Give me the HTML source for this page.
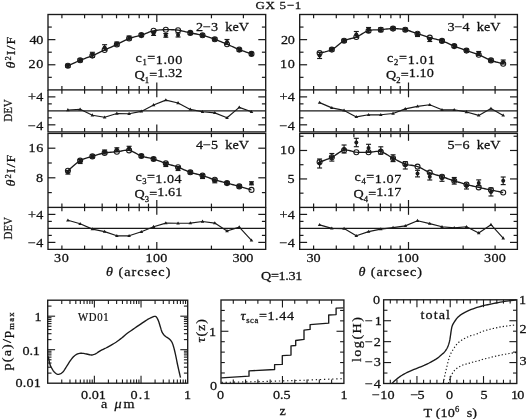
<!DOCTYPE html>
<html><head><meta charset="utf-8"><style>
html,body{margin:0;padding:0;background:#fff;width:526px;height:419px;overflow:hidden}
svg{display:block;will-change:transform}
.t{font-family:"Liberation Serif",serif;fill:#111;stroke:#111;stroke-width:0.25}
.tl{stroke-width:0.2}
</style></head><body>
<svg width="526" height="419" viewBox="0 0 526 419">
<rect width="526" height="419" fill="#fff"/>
<rect x="48" y="14.5" width="217.7" height="75.4" fill="none" stroke="#1a1a1a" stroke-width="1.35"/>
<path d="M48,89.9 V131.8 H265.7 V89.9" fill="none" stroke="#1a1a1a" stroke-width="1.35"/>
<line x1="61.9" y1="89.9" x2="61.9" y2="86.1" stroke="#1a1a1a" stroke-width="1.2" />
<line x1="61.9" y1="14.5" x2="61.9" y2="18.3" stroke="#1a1a1a" stroke-width="1.2" />
<line x1="84.58" y1="89.9" x2="84.58" y2="86.1" stroke="#1a1a1a" stroke-width="1.2" />
<line x1="84.58" y1="14.5" x2="84.58" y2="18.3" stroke="#1a1a1a" stroke-width="1.2" />
<line x1="102.17" y1="89.9" x2="102.17" y2="86.1" stroke="#1a1a1a" stroke-width="1.2" />
<line x1="102.17" y1="14.5" x2="102.17" y2="18.3" stroke="#1a1a1a" stroke-width="1.2" />
<line x1="116.54" y1="89.9" x2="116.54" y2="86.1" stroke="#1a1a1a" stroke-width="1.2" />
<line x1="116.54" y1="14.5" x2="116.54" y2="18.3" stroke="#1a1a1a" stroke-width="1.2" />
<line x1="128.69" y1="89.9" x2="128.69" y2="86.1" stroke="#1a1a1a" stroke-width="1.2" />
<line x1="128.69" y1="14.5" x2="128.69" y2="18.3" stroke="#1a1a1a" stroke-width="1.2" />
<line x1="139.21" y1="89.9" x2="139.21" y2="86.1" stroke="#1a1a1a" stroke-width="1.2" />
<line x1="139.21" y1="14.5" x2="139.21" y2="18.3" stroke="#1a1a1a" stroke-width="1.2" />
<line x1="148.5" y1="89.9" x2="148.5" y2="86.1" stroke="#1a1a1a" stroke-width="1.2" />
<line x1="148.5" y1="14.5" x2="148.5" y2="18.3" stroke="#1a1a1a" stroke-width="1.2" />
<line x1="156.8" y1="89.9" x2="156.8" y2="82.5" stroke="#1a1a1a" stroke-width="1.2" />
<line x1="156.8" y1="14.5" x2="156.8" y2="21.9" stroke="#1a1a1a" stroke-width="1.2" />
<line x1="211.44" y1="89.9" x2="211.44" y2="86.1" stroke="#1a1a1a" stroke-width="1.2" />
<line x1="211.44" y1="14.5" x2="211.44" y2="18.3" stroke="#1a1a1a" stroke-width="1.2" />
<line x1="243.4" y1="89.9" x2="243.4" y2="86.1" stroke="#1a1a1a" stroke-width="1.2" />
<line x1="243.4" y1="14.5" x2="243.4" y2="18.3" stroke="#1a1a1a" stroke-width="1.2" />
<line x1="61.9" y1="131.8" x2="61.9" y2="128" stroke="#1a1a1a" stroke-width="1.2" />
<line x1="61.9" y1="89.9" x2="61.9" y2="93.7" stroke="#1a1a1a" stroke-width="1.2" />
<line x1="84.58" y1="131.8" x2="84.58" y2="128" stroke="#1a1a1a" stroke-width="1.2" />
<line x1="84.58" y1="89.9" x2="84.58" y2="93.7" stroke="#1a1a1a" stroke-width="1.2" />
<line x1="102.17" y1="131.8" x2="102.17" y2="128" stroke="#1a1a1a" stroke-width="1.2" />
<line x1="102.17" y1="89.9" x2="102.17" y2="93.7" stroke="#1a1a1a" stroke-width="1.2" />
<line x1="116.54" y1="131.8" x2="116.54" y2="128" stroke="#1a1a1a" stroke-width="1.2" />
<line x1="116.54" y1="89.9" x2="116.54" y2="93.7" stroke="#1a1a1a" stroke-width="1.2" />
<line x1="128.69" y1="131.8" x2="128.69" y2="128" stroke="#1a1a1a" stroke-width="1.2" />
<line x1="128.69" y1="89.9" x2="128.69" y2="93.7" stroke="#1a1a1a" stroke-width="1.2" />
<line x1="139.21" y1="131.8" x2="139.21" y2="128" stroke="#1a1a1a" stroke-width="1.2" />
<line x1="139.21" y1="89.9" x2="139.21" y2="93.7" stroke="#1a1a1a" stroke-width="1.2" />
<line x1="148.5" y1="131.8" x2="148.5" y2="128" stroke="#1a1a1a" stroke-width="1.2" />
<line x1="148.5" y1="89.9" x2="148.5" y2="93.7" stroke="#1a1a1a" stroke-width="1.2" />
<line x1="156.8" y1="131.8" x2="156.8" y2="124.4" stroke="#1a1a1a" stroke-width="1.2" />
<line x1="156.8" y1="89.9" x2="156.8" y2="97.3" stroke="#1a1a1a" stroke-width="1.2" />
<line x1="211.44" y1="131.8" x2="211.44" y2="128" stroke="#1a1a1a" stroke-width="1.2" />
<line x1="211.44" y1="89.9" x2="211.44" y2="93.7" stroke="#1a1a1a" stroke-width="1.2" />
<line x1="243.4" y1="131.8" x2="243.4" y2="128" stroke="#1a1a1a" stroke-width="1.2" />
<line x1="243.4" y1="89.9" x2="243.4" y2="93.7" stroke="#1a1a1a" stroke-width="1.2" />
<line x1="48" y1="64.77" x2="55.4" y2="64.77" stroke="#1a1a1a" stroke-width="1.2" />
<line x1="265.7" y1="64.77" x2="258.3" y2="64.77" stroke="#1a1a1a" stroke-width="1.2" />
<line x1="48" y1="39.63" x2="55.4" y2="39.63" stroke="#1a1a1a" stroke-width="1.2" />
<line x1="265.7" y1="39.63" x2="258.3" y2="39.63" stroke="#1a1a1a" stroke-width="1.2" />
<line x1="48" y1="77.33" x2="51.8" y2="77.33" stroke="#1a1a1a" stroke-width="1.2" />
<line x1="265.7" y1="77.33" x2="261.9" y2="77.33" stroke="#1a1a1a" stroke-width="1.2" />
<line x1="48" y1="52.2" x2="51.8" y2="52.2" stroke="#1a1a1a" stroke-width="1.2" />
<line x1="265.7" y1="52.2" x2="261.9" y2="52.2" stroke="#1a1a1a" stroke-width="1.2" />
<line x1="48" y1="27.07" x2="51.8" y2="27.07" stroke="#1a1a1a" stroke-width="1.2" />
<line x1="265.7" y1="27.07" x2="261.9" y2="27.07" stroke="#1a1a1a" stroke-width="1.2" />
<line x1="48" y1="124.82" x2="55.4" y2="124.82" stroke="#1a1a1a" stroke-width="1.2" />
<line x1="265.7" y1="124.82" x2="258.3" y2="124.82" stroke="#1a1a1a" stroke-width="1.2" />
<line x1="48" y1="96.88" x2="55.4" y2="96.88" stroke="#1a1a1a" stroke-width="1.2" />
<line x1="265.7" y1="96.88" x2="258.3" y2="96.88" stroke="#1a1a1a" stroke-width="1.2" />
<line x1="48" y1="117.83" x2="51.8" y2="117.83" stroke="#1a1a1a" stroke-width="1.2" />
<line x1="265.7" y1="117.83" x2="261.9" y2="117.83" stroke="#1a1a1a" stroke-width="1.2" />
<line x1="48" y1="103.87" x2="51.8" y2="103.87" stroke="#1a1a1a" stroke-width="1.2" />
<line x1="265.7" y1="103.87" x2="261.9" y2="103.87" stroke="#1a1a1a" stroke-width="1.2" />
<line x1="48" y1="110.85" x2="265.7" y2="110.85" stroke="#1a1a1a" stroke-width="1.2" />
<polyline points="67.9,65.8 68.84,65.37 70.1,64.79 71.59,64.11 73.26,63.34 75.01,62.55 76.79,61.75 78.53,60.99 80.14,60.3 81.67,59.68 83.2,59.09 84.73,58.52 86.26,57.96 87.79,57.39 89.32,56.82 90.85,56.23 92.38,55.6 93.91,54.94 95.44,54.26 96.97,53.56 98.5,52.85 100.03,52.13 101.56,51.41 103.09,50.7 104.62,50 106.15,49.31 107.68,48.63 109.21,47.95 110.74,47.27 112.27,46.59 113.8,45.91 115.33,45.21 116.86,44.5 118.39,43.76 119.92,42.97 121.45,42.17 122.98,41.37 124.51,40.58 126.04,39.83 127.57,39.13 129.1,38.5 130.63,37.96 132.16,37.49 133.69,37.07 135.22,36.69 136.75,36.33 138.28,35.95 139.81,35.55 141.34,35.1 142.87,34.58 144.4,34.01 145.93,33.41 147.46,32.81 148.99,32.22 150.52,31.67 152.05,31.19 153.58,30.8 155.11,30.5 156.64,30.26 158.17,30.08 159.7,29.95 161.23,29.85 162.76,29.79 164.29,29.74 165.82,29.7 167.35,29.67 168.88,29.66 170.41,29.67 171.94,29.71 173.47,29.78 175,29.88 176.53,30.02 178.06,30.2 179.59,30.43 181.12,30.73 182.65,31.06 184.18,31.43 185.71,31.81 187.24,32.19 188.77,32.56 190.3,32.9 191.83,33.2 193.36,33.48 194.89,33.75 196.42,34.02 197.95,34.3 199.48,34.59 201.01,34.93 202.54,35.3 204.07,35.72 205.6,36.17 207.13,36.64 208.66,37.14 210.19,37.66 211.72,38.2 213.25,38.75 214.78,39.3 216.31,39.87 217.84,40.45 219.37,41.05 220.9,41.66 222.43,42.29 223.96,42.92 225.49,43.56 227.02,44.2 228.55,44.86 230.08,45.54 231.61,46.24 233.14,46.94 234.67,47.63 236.2,48.32 237.73,48.97 239.26,49.6 240.87,50.22 242.61,50.85 244.39,51.48 246.15,52.09 247.81,52.65 249.3,53.15 250.56,53.58 251.5,53.9" fill="none" stroke="#1a1a1a" stroke-width="1.35" stroke-linejoin="round" />
<line x1="67.9" y1="64.3" x2="67.9" y2="67.3" stroke="#1a1a1a" stroke-width="1.15" />
<line x1="65.4" y1="64.3" x2="70.4" y2="64.3" stroke="#1a1a1a" stroke-width="1.15" />
<line x1="65.4" y1="67.3" x2="70.4" y2="67.3" stroke="#1a1a1a" stroke-width="1.15" />
<circle cx="67.9" cy="65.8" r="2.0" fill="#1a1a1a"/>
<circle cx="67.9" cy="65.8" r="2.5" fill="none" stroke="#1a1a1a" stroke-width="1.1"/>
<line x1="80.14" y1="58.8" x2="80.14" y2="61.8" stroke="#1a1a1a" stroke-width="1.15" />
<line x1="77.64" y1="58.8" x2="82.64" y2="58.8" stroke="#1a1a1a" stroke-width="1.15" />
<line x1="77.64" y1="61.8" x2="82.64" y2="61.8" stroke="#1a1a1a" stroke-width="1.15" />
<circle cx="80.14" cy="60.3" r="2.0" fill="#1a1a1a"/>
<circle cx="80.14" cy="60.3" r="2.5" fill="none" stroke="#1a1a1a" stroke-width="1.1"/>
<line x1="92.38" y1="52.3" x2="92.38" y2="57.3" stroke="#1a1a1a" stroke-width="1.15" />
<line x1="89.88" y1="52.3" x2="94.88" y2="52.3" stroke="#1a1a1a" stroke-width="1.15" />
<line x1="89.88" y1="57.3" x2="94.88" y2="57.3" stroke="#1a1a1a" stroke-width="1.15" />
<circle cx="92.38" cy="54.8" r="2.0" fill="#1a1a1a"/>
<circle cx="92.38" cy="55.6" r="2.5" fill="none" stroke="#1a1a1a" stroke-width="1.1"/>
<line x1="104.62" y1="44.7" x2="104.62" y2="50.3" stroke="#1a1a1a" stroke-width="1.15" />
<line x1="102.12" y1="44.7" x2="107.12" y2="44.7" stroke="#1a1a1a" stroke-width="1.15" />
<line x1="102.12" y1="50.3" x2="107.12" y2="50.3" stroke="#1a1a1a" stroke-width="1.15" />
<circle cx="104.62" cy="47.5" r="2.0" fill="#1a1a1a"/>
<circle cx="104.62" cy="50" r="2.5" fill="none" stroke="#1a1a1a" stroke-width="1.1"/>
<line x1="116.86" y1="42" x2="116.86" y2="46" stroke="#1a1a1a" stroke-width="1.15" />
<line x1="114.36" y1="42" x2="119.36" y2="42" stroke="#1a1a1a" stroke-width="1.15" />
<line x1="114.36" y1="46" x2="119.36" y2="46" stroke="#1a1a1a" stroke-width="1.15" />
<circle cx="116.86" cy="44" r="2.0" fill="#1a1a1a"/>
<circle cx="116.86" cy="44.5" r="2.5" fill="none" stroke="#1a1a1a" stroke-width="1.1"/>
<line x1="129.1" y1="36" x2="129.1" y2="40" stroke="#1a1a1a" stroke-width="1.15" />
<line x1="126.6" y1="36" x2="131.6" y2="36" stroke="#1a1a1a" stroke-width="1.15" />
<line x1="126.6" y1="40" x2="131.6" y2="40" stroke="#1a1a1a" stroke-width="1.15" />
<circle cx="129.1" cy="38" r="2.0" fill="#1a1a1a"/>
<circle cx="129.1" cy="38.5" r="2.5" fill="none" stroke="#1a1a1a" stroke-width="1.1"/>
<line x1="141.34" y1="33.6" x2="141.34" y2="36.6" stroke="#1a1a1a" stroke-width="1.15" />
<line x1="138.84" y1="33.6" x2="143.84" y2="33.6" stroke="#1a1a1a" stroke-width="1.15" />
<line x1="138.84" y1="36.6" x2="143.84" y2="36.6" stroke="#1a1a1a" stroke-width="1.15" />
<circle cx="141.34" cy="35.1" r="2.0" fill="#1a1a1a"/>
<circle cx="141.34" cy="35.1" r="2.5" fill="none" stroke="#1a1a1a" stroke-width="1.1"/>
<line x1="153.58" y1="31.4" x2="153.58" y2="35.4" stroke="#1a1a1a" stroke-width="1.15" />
<line x1="151.08" y1="31.4" x2="156.08" y2="31.4" stroke="#1a1a1a" stroke-width="1.15" />
<line x1="151.08" y1="35.4" x2="156.08" y2="35.4" stroke="#1a1a1a" stroke-width="1.15" />
<circle cx="153.58" cy="33.4" r="2.0" fill="#1a1a1a"/>
<circle cx="153.58" cy="30.8" r="2.5" fill="none" stroke="#1a1a1a" stroke-width="1.1"/>
<line x1="165.82" y1="33.6" x2="165.82" y2="37.2" stroke="#1a1a1a" stroke-width="1.15" />
<line x1="163.32" y1="33.6" x2="168.32" y2="33.6" stroke="#1a1a1a" stroke-width="1.15" />
<line x1="163.32" y1="37.2" x2="168.32" y2="37.2" stroke="#1a1a1a" stroke-width="1.15" />
<circle cx="165.82" cy="35.4" r="2.0" fill="#1a1a1a"/>
<circle cx="165.82" cy="29.7" r="2.5" fill="none" stroke="#1a1a1a" stroke-width="1.1"/>
<line x1="178.06" y1="33" x2="178.06" y2="37" stroke="#1a1a1a" stroke-width="1.15" />
<line x1="175.56" y1="33" x2="180.56" y2="33" stroke="#1a1a1a" stroke-width="1.15" />
<line x1="175.56" y1="37" x2="180.56" y2="37" stroke="#1a1a1a" stroke-width="1.15" />
<circle cx="178.06" cy="35" r="2.0" fill="#1a1a1a"/>
<circle cx="178.06" cy="30.2" r="2.5" fill="none" stroke="#1a1a1a" stroke-width="1.1"/>
<line x1="190.3" y1="31.5" x2="190.3" y2="34.5" stroke="#1a1a1a" stroke-width="1.15" />
<line x1="187.8" y1="31.5" x2="192.8" y2="31.5" stroke="#1a1a1a" stroke-width="1.15" />
<line x1="187.8" y1="34.5" x2="192.8" y2="34.5" stroke="#1a1a1a" stroke-width="1.15" />
<circle cx="190.3" cy="33" r="2.0" fill="#1a1a1a"/>
<circle cx="190.3" cy="32.9" r="2.5" fill="none" stroke="#1a1a1a" stroke-width="1.1"/>
<line x1="202.54" y1="33.8" x2="202.54" y2="36.8" stroke="#1a1a1a" stroke-width="1.15" />
<line x1="200.04" y1="33.8" x2="205.04" y2="33.8" stroke="#1a1a1a" stroke-width="1.15" />
<line x1="200.04" y1="36.8" x2="205.04" y2="36.8" stroke="#1a1a1a" stroke-width="1.15" />
<circle cx="202.54" cy="35.3" r="2.0" fill="#1a1a1a"/>
<circle cx="202.54" cy="35.3" r="2.5" fill="none" stroke="#1a1a1a" stroke-width="1.1"/>
<line x1="214.78" y1="37.8" x2="214.78" y2="40.8" stroke="#1a1a1a" stroke-width="1.15" />
<line x1="212.28" y1="37.8" x2="217.28" y2="37.8" stroke="#1a1a1a" stroke-width="1.15" />
<line x1="212.28" y1="40.8" x2="217.28" y2="40.8" stroke="#1a1a1a" stroke-width="1.15" />
<circle cx="214.78" cy="39.3" r="2.0" fill="#1a1a1a"/>
<circle cx="214.78" cy="39.3" r="2.5" fill="none" stroke="#1a1a1a" stroke-width="1.1"/>
<line x1="227.02" y1="39.5" x2="227.02" y2="44.5" stroke="#1a1a1a" stroke-width="1.15" />
<line x1="224.52" y1="39.5" x2="229.52" y2="39.5" stroke="#1a1a1a" stroke-width="1.15" />
<line x1="224.52" y1="44.5" x2="229.52" y2="44.5" stroke="#1a1a1a" stroke-width="1.15" />
<circle cx="227.02" cy="42" r="2.0" fill="#1a1a1a"/>
<circle cx="227.02" cy="44.2" r="2.5" fill="none" stroke="#1a1a1a" stroke-width="1.1"/>
<line x1="239.26" y1="48.5" x2="239.26" y2="51.5" stroke="#1a1a1a" stroke-width="1.15" />
<line x1="236.76" y1="48.5" x2="241.76" y2="48.5" stroke="#1a1a1a" stroke-width="1.15" />
<line x1="236.76" y1="51.5" x2="241.76" y2="51.5" stroke="#1a1a1a" stroke-width="1.15" />
<circle cx="239.26" cy="50" r="2.0" fill="#1a1a1a"/>
<circle cx="239.26" cy="49.6" r="2.5" fill="none" stroke="#1a1a1a" stroke-width="1.1"/>
<line x1="251.5" y1="52.4" x2="251.5" y2="55.4" stroke="#1a1a1a" stroke-width="1.15" />
<line x1="249" y1="52.4" x2="254" y2="52.4" stroke="#1a1a1a" stroke-width="1.15" />
<line x1="249" y1="55.4" x2="254" y2="55.4" stroke="#1a1a1a" stroke-width="1.15" />
<circle cx="251.5" cy="53.9" r="2.0" fill="#1a1a1a"/>
<circle cx="251.5" cy="53.9" r="2.5" fill="none" stroke="#1a1a1a" stroke-width="1.1"/>
<polyline points="67.9,110 80.14,109.3 92.38,115.2 104.62,117.3 116.86,113.5 129.1,113.7 141.34,111.4 153.58,105 165.82,100.1 178.06,103 190.3,109.4 202.54,111.8 214.78,112.9 227.02,117.8 239.26,107.4 251.5,111.8" fill="none" stroke="#1a1a1a" stroke-width="1.15" stroke-linejoin="round" />
<path d="M66.1,111.2 L69.7,111.2 L67.9,108.1 Z" fill="#1a1a1a"/>
<path d="M78.34,110.5 L81.94,110.5 L80.14,107.4 Z" fill="#1a1a1a"/>
<path d="M90.58,116.4 L94.18,116.4 L92.38,113.3 Z" fill="#1a1a1a"/>
<path d="M102.82,118.5 L106.42,118.5 L104.62,115.4 Z" fill="#1a1a1a"/>
<path d="M115.06,114.7 L118.66,114.7 L116.86,111.6 Z" fill="#1a1a1a"/>
<path d="M127.3,114.9 L130.9,114.9 L129.1,111.8 Z" fill="#1a1a1a"/>
<path d="M139.54,112.6 L143.14,112.6 L141.34,109.5 Z" fill="#1a1a1a"/>
<path d="M151.78,106.2 L155.38,106.2 L153.58,103.1 Z" fill="#1a1a1a"/>
<path d="M164.02,101.3 L167.62,101.3 L165.82,98.2 Z" fill="#1a1a1a"/>
<path d="M176.26,104.2 L179.86,104.2 L178.06,101.1 Z" fill="#1a1a1a"/>
<path d="M188.5,110.6 L192.1,110.6 L190.3,107.5 Z" fill="#1a1a1a"/>
<path d="M200.74,113 L204.34,113 L202.54,109.9 Z" fill="#1a1a1a"/>
<path d="M212.98,114.1 L216.58,114.1 L214.78,111 Z" fill="#1a1a1a"/>
<path d="M225.22,119 L228.82,119 L227.02,115.9 Z" fill="#1a1a1a"/>
<path d="M237.46,108.6 L241.06,108.6 L239.26,105.5 Z" fill="#1a1a1a"/>
<path d="M249.7,113 L253.3,113 L251.5,109.9 Z" fill="#1a1a1a"/>
<rect x="299.7" y="14.5" width="217.7" height="75.4" fill="none" stroke="#1a1a1a" stroke-width="1.35"/>
<path d="M299.7,89.9 V131.8 H517.4 V89.9" fill="none" stroke="#1a1a1a" stroke-width="1.35"/>
<line x1="313.6" y1="89.9" x2="313.6" y2="86.1" stroke="#1a1a1a" stroke-width="1.2" />
<line x1="313.6" y1="14.5" x2="313.6" y2="18.3" stroke="#1a1a1a" stroke-width="1.2" />
<line x1="336.28" y1="89.9" x2="336.28" y2="86.1" stroke="#1a1a1a" stroke-width="1.2" />
<line x1="336.28" y1="14.5" x2="336.28" y2="18.3" stroke="#1a1a1a" stroke-width="1.2" />
<line x1="353.87" y1="89.9" x2="353.87" y2="86.1" stroke="#1a1a1a" stroke-width="1.2" />
<line x1="353.87" y1="14.5" x2="353.87" y2="18.3" stroke="#1a1a1a" stroke-width="1.2" />
<line x1="368.24" y1="89.9" x2="368.24" y2="86.1" stroke="#1a1a1a" stroke-width="1.2" />
<line x1="368.24" y1="14.5" x2="368.24" y2="18.3" stroke="#1a1a1a" stroke-width="1.2" />
<line x1="380.39" y1="89.9" x2="380.39" y2="86.1" stroke="#1a1a1a" stroke-width="1.2" />
<line x1="380.39" y1="14.5" x2="380.39" y2="18.3" stroke="#1a1a1a" stroke-width="1.2" />
<line x1="390.91" y1="89.9" x2="390.91" y2="86.1" stroke="#1a1a1a" stroke-width="1.2" />
<line x1="390.91" y1="14.5" x2="390.91" y2="18.3" stroke="#1a1a1a" stroke-width="1.2" />
<line x1="400.2" y1="89.9" x2="400.2" y2="86.1" stroke="#1a1a1a" stroke-width="1.2" />
<line x1="400.2" y1="14.5" x2="400.2" y2="18.3" stroke="#1a1a1a" stroke-width="1.2" />
<line x1="408.5" y1="89.9" x2="408.5" y2="82.5" stroke="#1a1a1a" stroke-width="1.2" />
<line x1="408.5" y1="14.5" x2="408.5" y2="21.9" stroke="#1a1a1a" stroke-width="1.2" />
<line x1="463.14" y1="89.9" x2="463.14" y2="86.1" stroke="#1a1a1a" stroke-width="1.2" />
<line x1="463.14" y1="14.5" x2="463.14" y2="18.3" stroke="#1a1a1a" stroke-width="1.2" />
<line x1="495.1" y1="89.9" x2="495.1" y2="86.1" stroke="#1a1a1a" stroke-width="1.2" />
<line x1="495.1" y1="14.5" x2="495.1" y2="18.3" stroke="#1a1a1a" stroke-width="1.2" />
<line x1="313.6" y1="131.8" x2="313.6" y2="128" stroke="#1a1a1a" stroke-width="1.2" />
<line x1="313.6" y1="89.9" x2="313.6" y2="93.7" stroke="#1a1a1a" stroke-width="1.2" />
<line x1="336.28" y1="131.8" x2="336.28" y2="128" stroke="#1a1a1a" stroke-width="1.2" />
<line x1="336.28" y1="89.9" x2="336.28" y2="93.7" stroke="#1a1a1a" stroke-width="1.2" />
<line x1="353.87" y1="131.8" x2="353.87" y2="128" stroke="#1a1a1a" stroke-width="1.2" />
<line x1="353.87" y1="89.9" x2="353.87" y2="93.7" stroke="#1a1a1a" stroke-width="1.2" />
<line x1="368.24" y1="131.8" x2="368.24" y2="128" stroke="#1a1a1a" stroke-width="1.2" />
<line x1="368.24" y1="89.9" x2="368.24" y2="93.7" stroke="#1a1a1a" stroke-width="1.2" />
<line x1="380.39" y1="131.8" x2="380.39" y2="128" stroke="#1a1a1a" stroke-width="1.2" />
<line x1="380.39" y1="89.9" x2="380.39" y2="93.7" stroke="#1a1a1a" stroke-width="1.2" />
<line x1="390.91" y1="131.8" x2="390.91" y2="128" stroke="#1a1a1a" stroke-width="1.2" />
<line x1="390.91" y1="89.9" x2="390.91" y2="93.7" stroke="#1a1a1a" stroke-width="1.2" />
<line x1="400.2" y1="131.8" x2="400.2" y2="128" stroke="#1a1a1a" stroke-width="1.2" />
<line x1="400.2" y1="89.9" x2="400.2" y2="93.7" stroke="#1a1a1a" stroke-width="1.2" />
<line x1="408.5" y1="131.8" x2="408.5" y2="124.4" stroke="#1a1a1a" stroke-width="1.2" />
<line x1="408.5" y1="89.9" x2="408.5" y2="97.3" stroke="#1a1a1a" stroke-width="1.2" />
<line x1="463.14" y1="131.8" x2="463.14" y2="128" stroke="#1a1a1a" stroke-width="1.2" />
<line x1="463.14" y1="89.9" x2="463.14" y2="93.7" stroke="#1a1a1a" stroke-width="1.2" />
<line x1="495.1" y1="131.8" x2="495.1" y2="128" stroke="#1a1a1a" stroke-width="1.2" />
<line x1="495.1" y1="89.9" x2="495.1" y2="93.7" stroke="#1a1a1a" stroke-width="1.2" />
<line x1="299.7" y1="64.77" x2="307.1" y2="64.77" stroke="#1a1a1a" stroke-width="1.2" />
<line x1="517.4" y1="64.77" x2="510" y2="64.77" stroke="#1a1a1a" stroke-width="1.2" />
<line x1="299.7" y1="39.63" x2="307.1" y2="39.63" stroke="#1a1a1a" stroke-width="1.2" />
<line x1="517.4" y1="39.63" x2="510" y2="39.63" stroke="#1a1a1a" stroke-width="1.2" />
<line x1="299.7" y1="77.33" x2="303.5" y2="77.33" stroke="#1a1a1a" stroke-width="1.2" />
<line x1="517.4" y1="77.33" x2="513.6" y2="77.33" stroke="#1a1a1a" stroke-width="1.2" />
<line x1="299.7" y1="52.2" x2="303.5" y2="52.2" stroke="#1a1a1a" stroke-width="1.2" />
<line x1="517.4" y1="52.2" x2="513.6" y2="52.2" stroke="#1a1a1a" stroke-width="1.2" />
<line x1="299.7" y1="27.07" x2="303.5" y2="27.07" stroke="#1a1a1a" stroke-width="1.2" />
<line x1="517.4" y1="27.07" x2="513.6" y2="27.07" stroke="#1a1a1a" stroke-width="1.2" />
<line x1="299.7" y1="124.82" x2="307.1" y2="124.82" stroke="#1a1a1a" stroke-width="1.2" />
<line x1="517.4" y1="124.82" x2="510" y2="124.82" stroke="#1a1a1a" stroke-width="1.2" />
<line x1="299.7" y1="96.88" x2="307.1" y2="96.88" stroke="#1a1a1a" stroke-width="1.2" />
<line x1="517.4" y1="96.88" x2="510" y2="96.88" stroke="#1a1a1a" stroke-width="1.2" />
<line x1="299.7" y1="117.83" x2="303.5" y2="117.83" stroke="#1a1a1a" stroke-width="1.2" />
<line x1="517.4" y1="117.83" x2="513.6" y2="117.83" stroke="#1a1a1a" stroke-width="1.2" />
<line x1="299.7" y1="103.87" x2="303.5" y2="103.87" stroke="#1a1a1a" stroke-width="1.2" />
<line x1="517.4" y1="103.87" x2="513.6" y2="103.87" stroke="#1a1a1a" stroke-width="1.2" />
<line x1="299.7" y1="110.85" x2="517.4" y2="110.85" stroke="#1a1a1a" stroke-width="1.2" />
<polyline points="319.6,53.1 320.54,52.87 321.8,52.6 323.29,52.28 324.96,51.9 326.71,51.45 328.49,50.93 330.23,50.32 331.84,49.6 333.37,48.72 334.9,47.66 336.43,46.47 337.96,45.22 339.49,43.97 341.02,42.77 342.55,41.7 344.08,40.8 345.61,40.1 347.14,39.56 348.67,39.12 350.2,38.74 351.73,38.39 353.26,38.01 354.79,37.56 356.32,37 357.85,36.3 359.38,35.48 360.91,34.59 362.44,33.67 363.97,32.78 365.5,31.96 367.03,31.25 368.56,30.7 370.09,30.32 371.62,30.08 373.15,29.94 374.68,29.88 376.21,29.85 377.74,29.83 379.27,29.79 380.8,29.7 382.33,29.55 383.86,29.38 385.39,29.2 386.92,29.02 388.45,28.86 389.98,28.72 391.51,28.63 393.04,28.6 394.57,28.61 396.1,28.65 397.63,28.72 399.16,28.83 400.69,28.98 402.22,29.17 403.75,29.41 405.28,29.7 406.81,30.06 408.34,30.5 409.87,30.99 411.4,31.53 412.93,32.08 414.46,32.64 415.99,33.18 417.52,33.7 419.05,34.2 420.58,34.7 422.11,35.2 423.64,35.69 425.17,36.19 426.7,36.67 428.23,37.14 429.76,37.6 431.29,38.03 432.82,38.42 434.35,38.8 435.88,39.17 437.41,39.55 438.94,39.96 440.47,40.4 442,40.9 443.53,41.46 445.06,42.08 446.59,42.74 448.12,43.42 449.65,44.12 451.18,44.8 452.71,45.47 454.24,46.1 455.77,46.7 457.3,47.28 458.83,47.85 460.36,48.41 461.89,48.97 463.42,49.51 464.95,50.06 466.48,50.6 468.01,51.13 469.54,51.64 471.07,52.14 472.6,52.63 474.13,53.14 475.66,53.66 477.19,54.21 478.72,54.8 480.25,55.45 481.78,56.15 483.31,56.89 484.84,57.65 486.37,58.4 487.9,59.12 489.43,59.8 490.96,60.4 492.57,60.95 494.31,61.48 496.09,61.99 497.85,62.45 499.51,62.87 501,63.24 502.26,63.55 503.2,63.8" fill="none" stroke="#1a1a1a" stroke-width="1.35" stroke-linejoin="round" />
<line x1="319.6" y1="52.5" x2="319.6" y2="58.5" stroke="#1a1a1a" stroke-width="1.15" />
<line x1="317.1" y1="52.5" x2="322.1" y2="52.5" stroke="#1a1a1a" stroke-width="1.15" />
<line x1="317.1" y1="58.5" x2="322.1" y2="58.5" stroke="#1a1a1a" stroke-width="1.15" />
<circle cx="319.6" cy="55.5" r="2.0" fill="#1a1a1a"/>
<circle cx="319.6" cy="53.1" r="2.5" fill="none" stroke="#1a1a1a" stroke-width="1.1"/>
<line x1="331.84" y1="48.1" x2="331.84" y2="51.1" stroke="#1a1a1a" stroke-width="1.15" />
<line x1="329.34" y1="48.1" x2="334.34" y2="48.1" stroke="#1a1a1a" stroke-width="1.15" />
<line x1="329.34" y1="51.1" x2="334.34" y2="51.1" stroke="#1a1a1a" stroke-width="1.15" />
<circle cx="331.84" cy="49.6" r="2.0" fill="#1a1a1a"/>
<circle cx="331.84" cy="49.6" r="2.5" fill="none" stroke="#1a1a1a" stroke-width="1.1"/>
<line x1="344.08" y1="39.3" x2="344.08" y2="42.3" stroke="#1a1a1a" stroke-width="1.15" />
<line x1="341.58" y1="39.3" x2="346.58" y2="39.3" stroke="#1a1a1a" stroke-width="1.15" />
<line x1="341.58" y1="42.3" x2="346.58" y2="42.3" stroke="#1a1a1a" stroke-width="1.15" />
<circle cx="344.08" cy="40.8" r="2.0" fill="#1a1a1a"/>
<circle cx="344.08" cy="40.8" r="2.5" fill="none" stroke="#1a1a1a" stroke-width="1.1"/>
<line x1="356.32" y1="31.5" x2="356.32" y2="37.5" stroke="#1a1a1a" stroke-width="1.15" />
<line x1="353.82" y1="31.5" x2="358.82" y2="31.5" stroke="#1a1a1a" stroke-width="1.15" />
<line x1="353.82" y1="37.5" x2="358.82" y2="37.5" stroke="#1a1a1a" stroke-width="1.15" />
<circle cx="356.32" cy="34.5" r="2.0" fill="#1a1a1a"/>
<circle cx="356.32" cy="37" r="2.5" fill="none" stroke="#1a1a1a" stroke-width="1.1"/>
<line x1="368.56" y1="27.5" x2="368.56" y2="32.5" stroke="#1a1a1a" stroke-width="1.15" />
<line x1="366.06" y1="27.5" x2="371.06" y2="27.5" stroke="#1a1a1a" stroke-width="1.15" />
<line x1="366.06" y1="32.5" x2="371.06" y2="32.5" stroke="#1a1a1a" stroke-width="1.15" />
<circle cx="368.56" cy="30" r="2.0" fill="#1a1a1a"/>
<circle cx="368.56" cy="30.7" r="2.5" fill="none" stroke="#1a1a1a" stroke-width="1.1"/>
<line x1="380.8" y1="27.7" x2="380.8" y2="31.7" stroke="#1a1a1a" stroke-width="1.15" />
<line x1="378.3" y1="27.7" x2="383.3" y2="27.7" stroke="#1a1a1a" stroke-width="1.15" />
<line x1="378.3" y1="31.7" x2="383.3" y2="31.7" stroke="#1a1a1a" stroke-width="1.15" />
<circle cx="380.8" cy="29.7" r="2.0" fill="#1a1a1a"/>
<circle cx="380.8" cy="29.7" r="2.5" fill="none" stroke="#1a1a1a" stroke-width="1.1"/>
<line x1="393.04" y1="27.1" x2="393.04" y2="30.1" stroke="#1a1a1a" stroke-width="1.15" />
<line x1="390.54" y1="27.1" x2="395.54" y2="27.1" stroke="#1a1a1a" stroke-width="1.15" />
<line x1="390.54" y1="30.1" x2="395.54" y2="30.1" stroke="#1a1a1a" stroke-width="1.15" />
<circle cx="393.04" cy="28.6" r="2.0" fill="#1a1a1a"/>
<circle cx="393.04" cy="28.6" r="2.5" fill="none" stroke="#1a1a1a" stroke-width="1.1"/>
<line x1="405.28" y1="28.2" x2="405.28" y2="31.2" stroke="#1a1a1a" stroke-width="1.15" />
<line x1="402.78" y1="28.2" x2="407.78" y2="28.2" stroke="#1a1a1a" stroke-width="1.15" />
<line x1="402.78" y1="31.2" x2="407.78" y2="31.2" stroke="#1a1a1a" stroke-width="1.15" />
<circle cx="405.28" cy="29.7" r="2.0" fill="#1a1a1a"/>
<circle cx="405.28" cy="29.7" r="2.5" fill="none" stroke="#1a1a1a" stroke-width="1.1"/>
<line x1="417.52" y1="32.5" x2="417.52" y2="36.5" stroke="#1a1a1a" stroke-width="1.15" />
<line x1="415.02" y1="32.5" x2="420.02" y2="32.5" stroke="#1a1a1a" stroke-width="1.15" />
<line x1="415.02" y1="36.5" x2="420.02" y2="36.5" stroke="#1a1a1a" stroke-width="1.15" />
<circle cx="417.52" cy="34.5" r="2.0" fill="#1a1a1a"/>
<circle cx="417.52" cy="33.7" r="2.5" fill="none" stroke="#1a1a1a" stroke-width="1.1"/>
<line x1="429.76" y1="37.5" x2="429.76" y2="41.5" stroke="#1a1a1a" stroke-width="1.15" />
<line x1="427.26" y1="37.5" x2="432.26" y2="37.5" stroke="#1a1a1a" stroke-width="1.15" />
<line x1="427.26" y1="41.5" x2="432.26" y2="41.5" stroke="#1a1a1a" stroke-width="1.15" />
<circle cx="429.76" cy="39.5" r="2.0" fill="#1a1a1a"/>
<circle cx="429.76" cy="37.6" r="2.5" fill="none" stroke="#1a1a1a" stroke-width="1.1"/>
<line x1="442" y1="39.4" x2="442" y2="42.4" stroke="#1a1a1a" stroke-width="1.15" />
<line x1="439.5" y1="39.4" x2="444.5" y2="39.4" stroke="#1a1a1a" stroke-width="1.15" />
<line x1="439.5" y1="42.4" x2="444.5" y2="42.4" stroke="#1a1a1a" stroke-width="1.15" />
<circle cx="442" cy="40.9" r="2.0" fill="#1a1a1a"/>
<circle cx="442" cy="40.9" r="2.5" fill="none" stroke="#1a1a1a" stroke-width="1.1"/>
<line x1="454.24" y1="44.6" x2="454.24" y2="47.6" stroke="#1a1a1a" stroke-width="1.15" />
<line x1="451.74" y1="44.6" x2="456.74" y2="44.6" stroke="#1a1a1a" stroke-width="1.15" />
<line x1="451.74" y1="47.6" x2="456.74" y2="47.6" stroke="#1a1a1a" stroke-width="1.15" />
<circle cx="454.24" cy="46.1" r="2.0" fill="#1a1a1a"/>
<circle cx="454.24" cy="46.1" r="2.5" fill="none" stroke="#1a1a1a" stroke-width="1.1"/>
<line x1="466.48" y1="49.1" x2="466.48" y2="52.1" stroke="#1a1a1a" stroke-width="1.15" />
<line x1="463.98" y1="49.1" x2="468.98" y2="49.1" stroke="#1a1a1a" stroke-width="1.15" />
<line x1="463.98" y1="52.1" x2="468.98" y2="52.1" stroke="#1a1a1a" stroke-width="1.15" />
<circle cx="466.48" cy="50.6" r="2.0" fill="#1a1a1a"/>
<circle cx="466.48" cy="50.6" r="2.5" fill="none" stroke="#1a1a1a" stroke-width="1.1"/>
<line x1="478.72" y1="51.5" x2="478.72" y2="55.5" stroke="#1a1a1a" stroke-width="1.15" />
<line x1="476.22" y1="51.5" x2="481.22" y2="51.5" stroke="#1a1a1a" stroke-width="1.15" />
<line x1="476.22" y1="55.5" x2="481.22" y2="55.5" stroke="#1a1a1a" stroke-width="1.15" />
<circle cx="478.72" cy="53.5" r="2.0" fill="#1a1a1a"/>
<circle cx="478.72" cy="54.8" r="2.5" fill="none" stroke="#1a1a1a" stroke-width="1.1"/>
<line x1="490.96" y1="58.9" x2="490.96" y2="61.9" stroke="#1a1a1a" stroke-width="1.15" />
<line x1="488.46" y1="58.9" x2="493.46" y2="58.9" stroke="#1a1a1a" stroke-width="1.15" />
<line x1="488.46" y1="61.9" x2="493.46" y2="61.9" stroke="#1a1a1a" stroke-width="1.15" />
<circle cx="490.96" cy="60.4" r="2.0" fill="#1a1a1a"/>
<circle cx="490.96" cy="60.4" r="2.5" fill="none" stroke="#1a1a1a" stroke-width="1.1"/>
<line x1="503.2" y1="60" x2="503.2" y2="64" stroke="#1a1a1a" stroke-width="1.15" />
<line x1="500.7" y1="60" x2="505.7" y2="60" stroke="#1a1a1a" stroke-width="1.15" />
<line x1="500.7" y1="64" x2="505.7" y2="64" stroke="#1a1a1a" stroke-width="1.15" />
<circle cx="503.2" cy="62" r="2.0" fill="#1a1a1a"/>
<circle cx="503.2" cy="63.8" r="2.5" fill="none" stroke="#1a1a1a" stroke-width="1.1"/>
<polyline points="319.6,102.6 331.84,107.9 344.08,110.4 356.32,116.9 368.56,114.8 380.8,114.8 393.04,113.5 405.28,108.9 417.52,106.4 429.76,104.8 442,109.8 454.24,109.8 466.48,112 478.72,115.4 490.96,108.6 503.2,115.4" fill="none" stroke="#1a1a1a" stroke-width="1.15" stroke-linejoin="round" />
<path d="M317.8,103.8 L321.4,103.8 L319.6,100.7 Z" fill="#1a1a1a"/>
<path d="M330.04,109.1 L333.64,109.1 L331.84,106 Z" fill="#1a1a1a"/>
<path d="M342.28,111.6 L345.88,111.6 L344.08,108.5 Z" fill="#1a1a1a"/>
<path d="M354.52,118.1 L358.12,118.1 L356.32,115 Z" fill="#1a1a1a"/>
<path d="M366.76,116 L370.36,116 L368.56,112.9 Z" fill="#1a1a1a"/>
<path d="M379,116 L382.6,116 L380.8,112.9 Z" fill="#1a1a1a"/>
<path d="M391.24,114.7 L394.84,114.7 L393.04,111.6 Z" fill="#1a1a1a"/>
<path d="M403.48,110.1 L407.08,110.1 L405.28,107 Z" fill="#1a1a1a"/>
<path d="M415.72,107.6 L419.32,107.6 L417.52,104.5 Z" fill="#1a1a1a"/>
<path d="M427.96,106 L431.56,106 L429.76,102.9 Z" fill="#1a1a1a"/>
<path d="M440.2,111 L443.8,111 L442,107.9 Z" fill="#1a1a1a"/>
<path d="M452.44,111 L456.04,111 L454.24,107.9 Z" fill="#1a1a1a"/>
<path d="M464.68,113.2 L468.28,113.2 L466.48,110.1 Z" fill="#1a1a1a"/>
<path d="M476.92,116.6 L480.52,116.6 L478.72,113.5 Z" fill="#1a1a1a"/>
<path d="M489.16,109.8 L492.76,109.8 L490.96,106.7 Z" fill="#1a1a1a"/>
<path d="M501.4,116.6 L505,116.6 L503.2,113.5 Z" fill="#1a1a1a"/>
<rect x="48" y="133.4" width="217.7" height="74" fill="none" stroke="#1a1a1a" stroke-width="1.35"/>
<path d="M48,207.4 V249.4 H265.7 V207.4" fill="none" stroke="#1a1a1a" stroke-width="1.35"/>
<line x1="61.9" y1="207.4" x2="61.9" y2="203.6" stroke="#1a1a1a" stroke-width="1.2" />
<line x1="61.9" y1="133.4" x2="61.9" y2="137.2" stroke="#1a1a1a" stroke-width="1.2" />
<line x1="84.58" y1="207.4" x2="84.58" y2="203.6" stroke="#1a1a1a" stroke-width="1.2" />
<line x1="84.58" y1="133.4" x2="84.58" y2="137.2" stroke="#1a1a1a" stroke-width="1.2" />
<line x1="102.17" y1="207.4" x2="102.17" y2="203.6" stroke="#1a1a1a" stroke-width="1.2" />
<line x1="102.17" y1="133.4" x2="102.17" y2="137.2" stroke="#1a1a1a" stroke-width="1.2" />
<line x1="116.54" y1="207.4" x2="116.54" y2="203.6" stroke="#1a1a1a" stroke-width="1.2" />
<line x1="116.54" y1="133.4" x2="116.54" y2="137.2" stroke="#1a1a1a" stroke-width="1.2" />
<line x1="128.69" y1="207.4" x2="128.69" y2="203.6" stroke="#1a1a1a" stroke-width="1.2" />
<line x1="128.69" y1="133.4" x2="128.69" y2="137.2" stroke="#1a1a1a" stroke-width="1.2" />
<line x1="139.21" y1="207.4" x2="139.21" y2="203.6" stroke="#1a1a1a" stroke-width="1.2" />
<line x1="139.21" y1="133.4" x2="139.21" y2="137.2" stroke="#1a1a1a" stroke-width="1.2" />
<line x1="148.5" y1="207.4" x2="148.5" y2="203.6" stroke="#1a1a1a" stroke-width="1.2" />
<line x1="148.5" y1="133.4" x2="148.5" y2="137.2" stroke="#1a1a1a" stroke-width="1.2" />
<line x1="156.8" y1="207.4" x2="156.8" y2="200" stroke="#1a1a1a" stroke-width="1.2" />
<line x1="156.8" y1="133.4" x2="156.8" y2="140.8" stroke="#1a1a1a" stroke-width="1.2" />
<line x1="211.44" y1="207.4" x2="211.44" y2="203.6" stroke="#1a1a1a" stroke-width="1.2" />
<line x1="211.44" y1="133.4" x2="211.44" y2="137.2" stroke="#1a1a1a" stroke-width="1.2" />
<line x1="243.4" y1="207.4" x2="243.4" y2="203.6" stroke="#1a1a1a" stroke-width="1.2" />
<line x1="243.4" y1="133.4" x2="243.4" y2="137.2" stroke="#1a1a1a" stroke-width="1.2" />
<line x1="61.9" y1="249.4" x2="61.9" y2="245.6" stroke="#1a1a1a" stroke-width="1.2" />
<line x1="61.9" y1="207.4" x2="61.9" y2="211.2" stroke="#1a1a1a" stroke-width="1.2" />
<line x1="84.58" y1="249.4" x2="84.58" y2="245.6" stroke="#1a1a1a" stroke-width="1.2" />
<line x1="84.58" y1="207.4" x2="84.58" y2="211.2" stroke="#1a1a1a" stroke-width="1.2" />
<line x1="102.17" y1="249.4" x2="102.17" y2="245.6" stroke="#1a1a1a" stroke-width="1.2" />
<line x1="102.17" y1="207.4" x2="102.17" y2="211.2" stroke="#1a1a1a" stroke-width="1.2" />
<line x1="116.54" y1="249.4" x2="116.54" y2="245.6" stroke="#1a1a1a" stroke-width="1.2" />
<line x1="116.54" y1="207.4" x2="116.54" y2="211.2" stroke="#1a1a1a" stroke-width="1.2" />
<line x1="128.69" y1="249.4" x2="128.69" y2="245.6" stroke="#1a1a1a" stroke-width="1.2" />
<line x1="128.69" y1="207.4" x2="128.69" y2="211.2" stroke="#1a1a1a" stroke-width="1.2" />
<line x1="139.21" y1="249.4" x2="139.21" y2="245.6" stroke="#1a1a1a" stroke-width="1.2" />
<line x1="139.21" y1="207.4" x2="139.21" y2="211.2" stroke="#1a1a1a" stroke-width="1.2" />
<line x1="148.5" y1="249.4" x2="148.5" y2="245.6" stroke="#1a1a1a" stroke-width="1.2" />
<line x1="148.5" y1="207.4" x2="148.5" y2="211.2" stroke="#1a1a1a" stroke-width="1.2" />
<line x1="156.8" y1="249.4" x2="156.8" y2="242" stroke="#1a1a1a" stroke-width="1.2" />
<line x1="156.8" y1="207.4" x2="156.8" y2="214.8" stroke="#1a1a1a" stroke-width="1.2" />
<line x1="211.44" y1="249.4" x2="211.44" y2="245.6" stroke="#1a1a1a" stroke-width="1.2" />
<line x1="211.44" y1="207.4" x2="211.44" y2="211.2" stroke="#1a1a1a" stroke-width="1.2" />
<line x1="243.4" y1="249.4" x2="243.4" y2="245.6" stroke="#1a1a1a" stroke-width="1.2" />
<line x1="243.4" y1="207.4" x2="243.4" y2="211.2" stroke="#1a1a1a" stroke-width="1.2" />
<line x1="48" y1="177.8" x2="55.4" y2="177.8" stroke="#1a1a1a" stroke-width="1.2" />
<line x1="265.7" y1="177.8" x2="258.3" y2="177.8" stroke="#1a1a1a" stroke-width="1.2" />
<line x1="48" y1="148.2" x2="55.4" y2="148.2" stroke="#1a1a1a" stroke-width="1.2" />
<line x1="265.7" y1="148.2" x2="258.3" y2="148.2" stroke="#1a1a1a" stroke-width="1.2" />
<line x1="48" y1="192.6" x2="51.8" y2="192.6" stroke="#1a1a1a" stroke-width="1.2" />
<line x1="265.7" y1="192.6" x2="261.9" y2="192.6" stroke="#1a1a1a" stroke-width="1.2" />
<line x1="48" y1="163" x2="51.8" y2="163" stroke="#1a1a1a" stroke-width="1.2" />
<line x1="265.7" y1="163" x2="261.9" y2="163" stroke="#1a1a1a" stroke-width="1.2" />
<line x1="48" y1="242.4" x2="55.4" y2="242.4" stroke="#1a1a1a" stroke-width="1.2" />
<line x1="265.7" y1="242.4" x2="258.3" y2="242.4" stroke="#1a1a1a" stroke-width="1.2" />
<line x1="48" y1="214.4" x2="55.4" y2="214.4" stroke="#1a1a1a" stroke-width="1.2" />
<line x1="265.7" y1="214.4" x2="258.3" y2="214.4" stroke="#1a1a1a" stroke-width="1.2" />
<line x1="48" y1="235.4" x2="51.8" y2="235.4" stroke="#1a1a1a" stroke-width="1.2" />
<line x1="265.7" y1="235.4" x2="261.9" y2="235.4" stroke="#1a1a1a" stroke-width="1.2" />
<line x1="48" y1="221.4" x2="51.8" y2="221.4" stroke="#1a1a1a" stroke-width="1.2" />
<line x1="265.7" y1="221.4" x2="261.9" y2="221.4" stroke="#1a1a1a" stroke-width="1.2" />
<line x1="48" y1="228.4" x2="265.7" y2="228.4" stroke="#1a1a1a" stroke-width="1.2" />
<polyline points="67.9,170.7 68.84,169.88 70.1,168.75 71.59,167.39 73.26,165.91 75.01,164.4 76.79,162.95 78.53,161.65 80.14,160.6 81.67,159.79 83.2,159.12 84.73,158.56 86.26,158.09 87.79,157.66 89.32,157.26 90.85,156.85 92.38,156.4 93.91,155.91 95.44,155.42 96.97,154.93 98.5,154.46 100.03,154.01 101.56,153.59 103.09,153.22 104.62,152.9 106.15,152.65 107.68,152.46 109.21,152.32 110.74,152.22 112.27,152.13 113.8,152.04 115.33,151.94 116.86,151.8 118.39,151.59 119.92,151.31 121.45,150.99 122.98,150.68 124.51,150.43 126.04,150.26 127.57,150.24 129.1,150.4 130.63,150.78 132.16,151.37 133.69,152.1 135.22,152.92 136.75,153.78 138.28,154.62 139.81,155.38 141.34,156 142.87,156.49 144.4,156.9 145.93,157.25 147.46,157.58 148.99,157.89 150.52,158.21 152.05,158.58 153.58,159 155.11,159.49 156.64,160.02 158.17,160.57 159.7,161.15 161.23,161.73 162.76,162.31 164.29,162.87 165.82,163.4 167.35,163.89 168.88,164.36 170.41,164.81 171.94,165.26 173.47,165.71 175,166.17 176.53,166.67 178.06,167.2 179.59,167.79 181.12,168.43 182.65,169.1 184.18,169.78 185.71,170.46 187.24,171.12 188.77,171.74 190.3,172.3 191.83,172.79 193.36,173.23 194.89,173.63 196.42,174.01 197.95,174.38 199.48,174.75 201.01,175.16 202.54,175.6 204.07,176.09 205.6,176.61 207.13,177.15 208.66,177.7 210.19,178.25 211.72,178.79 213.25,179.31 214.78,179.8 216.31,180.26 217.84,180.69 219.37,181.1 220.9,181.51 222.43,181.9 223.96,182.3 225.49,182.69 227.02,183.1 228.55,183.51 230.08,183.92 231.61,184.33 233.14,184.74 234.67,185.15 236.2,185.56 237.73,185.98 239.26,186.4 240.87,186.85 242.61,187.34 244.39,187.85 246.15,188.36 247.81,188.84 249.3,189.27 250.56,189.63 251.5,189.9" fill="none" stroke="#1a1a1a" stroke-width="1.35" stroke-linejoin="round" />
<line x1="67.9" y1="170.5" x2="67.9" y2="174.1" stroke="#1a1a1a" stroke-width="1.15" />
<line x1="65.4" y1="170.5" x2="70.4" y2="170.5" stroke="#1a1a1a" stroke-width="1.15" />
<line x1="65.4" y1="174.1" x2="70.4" y2="174.1" stroke="#1a1a1a" stroke-width="1.15" />
<circle cx="67.9" cy="172.3" r="2.0" fill="#1a1a1a"/>
<circle cx="67.9" cy="170.7" r="2.5" fill="none" stroke="#1a1a1a" stroke-width="1.1"/>
<line x1="80.14" y1="159.5" x2="80.14" y2="163.5" stroke="#1a1a1a" stroke-width="1.15" />
<line x1="77.64" y1="159.5" x2="82.64" y2="159.5" stroke="#1a1a1a" stroke-width="1.15" />
<line x1="77.64" y1="163.5" x2="82.64" y2="163.5" stroke="#1a1a1a" stroke-width="1.15" />
<circle cx="80.14" cy="161.5" r="2.0" fill="#1a1a1a"/>
<circle cx="80.14" cy="160.6" r="2.5" fill="none" stroke="#1a1a1a" stroke-width="1.1"/>
<line x1="92.38" y1="154.9" x2="92.38" y2="157.9" stroke="#1a1a1a" stroke-width="1.15" />
<line x1="89.88" y1="154.9" x2="94.88" y2="154.9" stroke="#1a1a1a" stroke-width="1.15" />
<line x1="89.88" y1="157.9" x2="94.88" y2="157.9" stroke="#1a1a1a" stroke-width="1.15" />
<circle cx="92.38" cy="156.4" r="2.0" fill="#1a1a1a"/>
<circle cx="92.38" cy="156.4" r="2.5" fill="none" stroke="#1a1a1a" stroke-width="1.1"/>
<line x1="104.62" y1="150" x2="104.62" y2="154" stroke="#1a1a1a" stroke-width="1.15" />
<line x1="102.12" y1="150" x2="107.12" y2="150" stroke="#1a1a1a" stroke-width="1.15" />
<line x1="102.12" y1="154" x2="107.12" y2="154" stroke="#1a1a1a" stroke-width="1.15" />
<circle cx="104.62" cy="152" r="2.0" fill="#1a1a1a"/>
<circle cx="104.62" cy="152.9" r="2.5" fill="none" stroke="#1a1a1a" stroke-width="1.1"/>
<line x1="116.86" y1="147.8" x2="116.86" y2="151.4" stroke="#1a1a1a" stroke-width="1.15" />
<line x1="114.36" y1="147.8" x2="119.36" y2="147.8" stroke="#1a1a1a" stroke-width="1.15" />
<line x1="114.36" y1="151.4" x2="119.36" y2="151.4" stroke="#1a1a1a" stroke-width="1.15" />
<circle cx="116.86" cy="149.6" r="2.0" fill="#1a1a1a"/>
<circle cx="116.86" cy="151.8" r="2.5" fill="none" stroke="#1a1a1a" stroke-width="1.1"/>
<line x1="129.1" y1="146.3" x2="129.1" y2="150.3" stroke="#1a1a1a" stroke-width="1.15" />
<line x1="126.6" y1="146.3" x2="131.6" y2="146.3" stroke="#1a1a1a" stroke-width="1.15" />
<line x1="126.6" y1="150.3" x2="131.6" y2="150.3" stroke="#1a1a1a" stroke-width="1.15" />
<circle cx="129.1" cy="148.3" r="2.0" fill="#1a1a1a"/>
<circle cx="129.1" cy="150.4" r="2.5" fill="none" stroke="#1a1a1a" stroke-width="1.1"/>
<line x1="141.34" y1="154.5" x2="141.34" y2="157.5" stroke="#1a1a1a" stroke-width="1.15" />
<line x1="138.84" y1="154.5" x2="143.84" y2="154.5" stroke="#1a1a1a" stroke-width="1.15" />
<line x1="138.84" y1="157.5" x2="143.84" y2="157.5" stroke="#1a1a1a" stroke-width="1.15" />
<circle cx="141.34" cy="156" r="2.0" fill="#1a1a1a"/>
<circle cx="141.34" cy="156" r="2.5" fill="none" stroke="#1a1a1a" stroke-width="1.1"/>
<line x1="153.58" y1="157.5" x2="153.58" y2="160.5" stroke="#1a1a1a" stroke-width="1.15" />
<line x1="151.08" y1="157.5" x2="156.08" y2="157.5" stroke="#1a1a1a" stroke-width="1.15" />
<line x1="151.08" y1="160.5" x2="156.08" y2="160.5" stroke="#1a1a1a" stroke-width="1.15" />
<circle cx="153.58" cy="159" r="2.0" fill="#1a1a1a"/>
<circle cx="153.58" cy="159" r="2.5" fill="none" stroke="#1a1a1a" stroke-width="1.1"/>
<line x1="165.82" y1="162.5" x2="165.82" y2="166.5" stroke="#1a1a1a" stroke-width="1.15" />
<line x1="163.32" y1="162.5" x2="168.32" y2="162.5" stroke="#1a1a1a" stroke-width="1.15" />
<line x1="163.32" y1="166.5" x2="168.32" y2="166.5" stroke="#1a1a1a" stroke-width="1.15" />
<circle cx="165.82" cy="164.5" r="2.0" fill="#1a1a1a"/>
<circle cx="165.82" cy="163.4" r="2.5" fill="none" stroke="#1a1a1a" stroke-width="1.1"/>
<line x1="178.06" y1="166.5" x2="178.06" y2="170.5" stroke="#1a1a1a" stroke-width="1.15" />
<line x1="175.56" y1="166.5" x2="180.56" y2="166.5" stroke="#1a1a1a" stroke-width="1.15" />
<line x1="175.56" y1="170.5" x2="180.56" y2="170.5" stroke="#1a1a1a" stroke-width="1.15" />
<circle cx="178.06" cy="168.5" r="2.0" fill="#1a1a1a"/>
<circle cx="178.06" cy="167.2" r="2.5" fill="none" stroke="#1a1a1a" stroke-width="1.1"/>
<line x1="190.3" y1="170.8" x2="190.3" y2="173.8" stroke="#1a1a1a" stroke-width="1.15" />
<line x1="187.8" y1="170.8" x2="192.8" y2="170.8" stroke="#1a1a1a" stroke-width="1.15" />
<line x1="187.8" y1="173.8" x2="192.8" y2="173.8" stroke="#1a1a1a" stroke-width="1.15" />
<circle cx="190.3" cy="172.3" r="2.0" fill="#1a1a1a"/>
<circle cx="190.3" cy="172.3" r="2.5" fill="none" stroke="#1a1a1a" stroke-width="1.1"/>
<line x1="202.54" y1="174.5" x2="202.54" y2="178.5" stroke="#1a1a1a" stroke-width="1.15" />
<line x1="200.04" y1="174.5" x2="205.04" y2="174.5" stroke="#1a1a1a" stroke-width="1.15" />
<line x1="200.04" y1="178.5" x2="205.04" y2="178.5" stroke="#1a1a1a" stroke-width="1.15" />
<circle cx="202.54" cy="176.5" r="2.0" fill="#1a1a1a"/>
<circle cx="202.54" cy="175.6" r="2.5" fill="none" stroke="#1a1a1a" stroke-width="1.1"/>
<line x1="214.78" y1="178.8" x2="214.78" y2="182.8" stroke="#1a1a1a" stroke-width="1.15" />
<line x1="212.28" y1="178.8" x2="217.28" y2="178.8" stroke="#1a1a1a" stroke-width="1.15" />
<line x1="212.28" y1="182.8" x2="217.28" y2="182.8" stroke="#1a1a1a" stroke-width="1.15" />
<circle cx="214.78" cy="180.8" r="2.0" fill="#1a1a1a"/>
<circle cx="214.78" cy="179.8" r="2.5" fill="none" stroke="#1a1a1a" stroke-width="1.1"/>
<line x1="227.02" y1="181.6" x2="227.02" y2="184.6" stroke="#1a1a1a" stroke-width="1.15" />
<line x1="224.52" y1="181.6" x2="229.52" y2="181.6" stroke="#1a1a1a" stroke-width="1.15" />
<line x1="224.52" y1="184.6" x2="229.52" y2="184.6" stroke="#1a1a1a" stroke-width="1.15" />
<circle cx="227.02" cy="183.1" r="2.0" fill="#1a1a1a"/>
<circle cx="227.02" cy="183.1" r="2.5" fill="none" stroke="#1a1a1a" stroke-width="1.1"/>
<line x1="239.26" y1="184.9" x2="239.26" y2="187.9" stroke="#1a1a1a" stroke-width="1.15" />
<line x1="236.76" y1="184.9" x2="241.76" y2="184.9" stroke="#1a1a1a" stroke-width="1.15" />
<line x1="236.76" y1="187.9" x2="241.76" y2="187.9" stroke="#1a1a1a" stroke-width="1.15" />
<circle cx="239.26" cy="186.4" r="2.0" fill="#1a1a1a"/>
<circle cx="239.26" cy="186.4" r="2.5" fill="none" stroke="#1a1a1a" stroke-width="1.1"/>
<line x1="251.5" y1="181.8" x2="251.5" y2="184.8" stroke="#1a1a1a" stroke-width="1.15" />
<line x1="249" y1="181.8" x2="254" y2="181.8" stroke="#1a1a1a" stroke-width="1.15" />
<line x1="249" y1="184.8" x2="254" y2="184.8" stroke="#1a1a1a" stroke-width="1.15" />
<circle cx="251.5" cy="183.3" r="2.0" fill="#1a1a1a"/>
<circle cx="251.5" cy="189.9" r="2.5" fill="none" stroke="#1a1a1a" stroke-width="1.1"/>
<polyline points="67.9,220.3 80.14,223.8 92.38,229.1 104.62,231.6 116.86,235.8 129.1,235.8 141.34,231.8 153.58,226.7 165.82,223.1 178.06,223.3 190.3,223.1 202.54,221.5 214.78,223.1 227.02,231 239.26,227.1 251.5,240.3" fill="none" stroke="#1a1a1a" stroke-width="1.15" stroke-linejoin="round" />
<path d="M66.1,221.5 L69.7,221.5 L67.9,218.4 Z" fill="#1a1a1a"/>
<path d="M78.34,225 L81.94,225 L80.14,221.9 Z" fill="#1a1a1a"/>
<path d="M90.58,230.3 L94.18,230.3 L92.38,227.2 Z" fill="#1a1a1a"/>
<path d="M102.82,232.8 L106.42,232.8 L104.62,229.7 Z" fill="#1a1a1a"/>
<path d="M115.06,237 L118.66,237 L116.86,233.9 Z" fill="#1a1a1a"/>
<path d="M127.3,237 L130.9,237 L129.1,233.9 Z" fill="#1a1a1a"/>
<path d="M139.54,233 L143.14,233 L141.34,229.9 Z" fill="#1a1a1a"/>
<path d="M151.78,227.9 L155.38,227.9 L153.58,224.8 Z" fill="#1a1a1a"/>
<path d="M164.02,224.3 L167.62,224.3 L165.82,221.2 Z" fill="#1a1a1a"/>
<path d="M176.26,224.5 L179.86,224.5 L178.06,221.4 Z" fill="#1a1a1a"/>
<path d="M188.5,224.3 L192.1,224.3 L190.3,221.2 Z" fill="#1a1a1a"/>
<path d="M200.74,222.7 L204.34,222.7 L202.54,219.6 Z" fill="#1a1a1a"/>
<path d="M212.98,224.3 L216.58,224.3 L214.78,221.2 Z" fill="#1a1a1a"/>
<path d="M225.22,232.2 L228.82,232.2 L227.02,229.1 Z" fill="#1a1a1a"/>
<path d="M237.46,228.3 L241.06,228.3 L239.26,225.2 Z" fill="#1a1a1a"/>
<path d="M249.7,241.5 L253.3,241.5 L251.5,238.4 Z" fill="#1a1a1a"/>
<rect x="299.7" y="133.4" width="217.7" height="74" fill="none" stroke="#1a1a1a" stroke-width="1.35"/>
<path d="M299.7,207.4 V249.4 H517.4 V207.4" fill="none" stroke="#1a1a1a" stroke-width="1.35"/>
<line x1="313.6" y1="207.4" x2="313.6" y2="203.6" stroke="#1a1a1a" stroke-width="1.2" />
<line x1="313.6" y1="133.4" x2="313.6" y2="137.2" stroke="#1a1a1a" stroke-width="1.2" />
<line x1="336.28" y1="207.4" x2="336.28" y2="203.6" stroke="#1a1a1a" stroke-width="1.2" />
<line x1="336.28" y1="133.4" x2="336.28" y2="137.2" stroke="#1a1a1a" stroke-width="1.2" />
<line x1="353.87" y1="207.4" x2="353.87" y2="203.6" stroke="#1a1a1a" stroke-width="1.2" />
<line x1="353.87" y1="133.4" x2="353.87" y2="137.2" stroke="#1a1a1a" stroke-width="1.2" />
<line x1="368.24" y1="207.4" x2="368.24" y2="203.6" stroke="#1a1a1a" stroke-width="1.2" />
<line x1="368.24" y1="133.4" x2="368.24" y2="137.2" stroke="#1a1a1a" stroke-width="1.2" />
<line x1="380.39" y1="207.4" x2="380.39" y2="203.6" stroke="#1a1a1a" stroke-width="1.2" />
<line x1="380.39" y1="133.4" x2="380.39" y2="137.2" stroke="#1a1a1a" stroke-width="1.2" />
<line x1="390.91" y1="207.4" x2="390.91" y2="203.6" stroke="#1a1a1a" stroke-width="1.2" />
<line x1="390.91" y1="133.4" x2="390.91" y2="137.2" stroke="#1a1a1a" stroke-width="1.2" />
<line x1="400.2" y1="207.4" x2="400.2" y2="203.6" stroke="#1a1a1a" stroke-width="1.2" />
<line x1="400.2" y1="133.4" x2="400.2" y2="137.2" stroke="#1a1a1a" stroke-width="1.2" />
<line x1="408.5" y1="207.4" x2="408.5" y2="200" stroke="#1a1a1a" stroke-width="1.2" />
<line x1="408.5" y1="133.4" x2="408.5" y2="140.8" stroke="#1a1a1a" stroke-width="1.2" />
<line x1="463.14" y1="207.4" x2="463.14" y2="203.6" stroke="#1a1a1a" stroke-width="1.2" />
<line x1="463.14" y1="133.4" x2="463.14" y2="137.2" stroke="#1a1a1a" stroke-width="1.2" />
<line x1="495.1" y1="207.4" x2="495.1" y2="203.6" stroke="#1a1a1a" stroke-width="1.2" />
<line x1="495.1" y1="133.4" x2="495.1" y2="137.2" stroke="#1a1a1a" stroke-width="1.2" />
<line x1="313.6" y1="249.4" x2="313.6" y2="245.6" stroke="#1a1a1a" stroke-width="1.2" />
<line x1="313.6" y1="207.4" x2="313.6" y2="211.2" stroke="#1a1a1a" stroke-width="1.2" />
<line x1="336.28" y1="249.4" x2="336.28" y2="245.6" stroke="#1a1a1a" stroke-width="1.2" />
<line x1="336.28" y1="207.4" x2="336.28" y2="211.2" stroke="#1a1a1a" stroke-width="1.2" />
<line x1="353.87" y1="249.4" x2="353.87" y2="245.6" stroke="#1a1a1a" stroke-width="1.2" />
<line x1="353.87" y1="207.4" x2="353.87" y2="211.2" stroke="#1a1a1a" stroke-width="1.2" />
<line x1="368.24" y1="249.4" x2="368.24" y2="245.6" stroke="#1a1a1a" stroke-width="1.2" />
<line x1="368.24" y1="207.4" x2="368.24" y2="211.2" stroke="#1a1a1a" stroke-width="1.2" />
<line x1="380.39" y1="249.4" x2="380.39" y2="245.6" stroke="#1a1a1a" stroke-width="1.2" />
<line x1="380.39" y1="207.4" x2="380.39" y2="211.2" stroke="#1a1a1a" stroke-width="1.2" />
<line x1="390.91" y1="249.4" x2="390.91" y2="245.6" stroke="#1a1a1a" stroke-width="1.2" />
<line x1="390.91" y1="207.4" x2="390.91" y2="211.2" stroke="#1a1a1a" stroke-width="1.2" />
<line x1="400.2" y1="249.4" x2="400.2" y2="245.6" stroke="#1a1a1a" stroke-width="1.2" />
<line x1="400.2" y1="207.4" x2="400.2" y2="211.2" stroke="#1a1a1a" stroke-width="1.2" />
<line x1="408.5" y1="249.4" x2="408.5" y2="242" stroke="#1a1a1a" stroke-width="1.2" />
<line x1="408.5" y1="207.4" x2="408.5" y2="214.8" stroke="#1a1a1a" stroke-width="1.2" />
<line x1="463.14" y1="249.4" x2="463.14" y2="245.6" stroke="#1a1a1a" stroke-width="1.2" />
<line x1="463.14" y1="207.4" x2="463.14" y2="211.2" stroke="#1a1a1a" stroke-width="1.2" />
<line x1="495.1" y1="249.4" x2="495.1" y2="245.6" stroke="#1a1a1a" stroke-width="1.2" />
<line x1="495.1" y1="207.4" x2="495.1" y2="211.2" stroke="#1a1a1a" stroke-width="1.2" />
<line x1="299.7" y1="178.94" x2="307.1" y2="178.94" stroke="#1a1a1a" stroke-width="1.2" />
<line x1="517.4" y1="178.94" x2="510" y2="178.94" stroke="#1a1a1a" stroke-width="1.2" />
<line x1="299.7" y1="150.48" x2="307.1" y2="150.48" stroke="#1a1a1a" stroke-width="1.2" />
<line x1="517.4" y1="150.48" x2="510" y2="150.48" stroke="#1a1a1a" stroke-width="1.2" />
<line x1="299.7" y1="193.17" x2="303.5" y2="193.17" stroke="#1a1a1a" stroke-width="1.2" />
<line x1="517.4" y1="193.17" x2="513.6" y2="193.17" stroke="#1a1a1a" stroke-width="1.2" />
<line x1="299.7" y1="164.71" x2="303.5" y2="164.71" stroke="#1a1a1a" stroke-width="1.2" />
<line x1="517.4" y1="164.71" x2="513.6" y2="164.71" stroke="#1a1a1a" stroke-width="1.2" />
<line x1="299.7" y1="136.25" x2="303.5" y2="136.25" stroke="#1a1a1a" stroke-width="1.2" />
<line x1="517.4" y1="136.25" x2="513.6" y2="136.25" stroke="#1a1a1a" stroke-width="1.2" />
<line x1="299.7" y1="242.4" x2="307.1" y2="242.4" stroke="#1a1a1a" stroke-width="1.2" />
<line x1="517.4" y1="242.4" x2="510" y2="242.4" stroke="#1a1a1a" stroke-width="1.2" />
<line x1="299.7" y1="214.4" x2="307.1" y2="214.4" stroke="#1a1a1a" stroke-width="1.2" />
<line x1="517.4" y1="214.4" x2="510" y2="214.4" stroke="#1a1a1a" stroke-width="1.2" />
<line x1="299.7" y1="235.4" x2="303.5" y2="235.4" stroke="#1a1a1a" stroke-width="1.2" />
<line x1="517.4" y1="235.4" x2="513.6" y2="235.4" stroke="#1a1a1a" stroke-width="1.2" />
<line x1="299.7" y1="221.4" x2="303.5" y2="221.4" stroke="#1a1a1a" stroke-width="1.2" />
<line x1="517.4" y1="221.4" x2="513.6" y2="221.4" stroke="#1a1a1a" stroke-width="1.2" />
<line x1="299.7" y1="228.4" x2="517.4" y2="228.4" stroke="#1a1a1a" stroke-width="1.2" />
<polyline points="319.6,162.1 320.54,161.75 321.8,161.29 323.29,160.75 324.96,160.14 326.71,159.48 328.49,158.77 330.23,158.04 331.84,157.3 333.37,156.46 334.9,155.47 336.43,154.41 337.96,153.33 339.49,152.3 341.02,151.39 342.55,150.67 344.08,150.2 345.61,150.03 347.14,150.1 348.67,150.37 350.2,150.75 351.73,151.19 353.26,151.62 354.79,151.98 356.32,152.2 357.85,152.31 359.38,152.37 360.91,152.41 362.44,152.41 363.97,152.4 365.5,152.37 367.03,152.33 368.56,152.3 370.09,152.21 371.62,152.03 373.15,151.81 374.68,151.6 376.21,151.44 377.74,151.37 379.27,151.44 380.8,151.7 382.33,152.18 383.86,152.84 385.39,153.65 386.92,154.55 388.45,155.5 389.98,156.46 391.51,157.37 393.04,158.2 394.57,158.98 396.1,159.77 397.63,160.57 399.16,161.34 400.69,162.09 402.22,162.79 403.75,163.43 405.28,164 406.81,164.45 408.34,164.8 409.87,165.06 411.4,165.29 412.93,165.52 414.46,165.79 415.99,166.13 417.52,166.6 419.05,167.2 420.58,167.91 422.11,168.68 423.64,169.51 425.17,170.34 426.7,171.15 428.23,171.92 429.76,172.6 431.29,173.2 432.82,173.76 434.35,174.28 435.88,174.77 437.41,175.25 438.94,175.72 440.47,176.2 442,176.7 443.53,177.22 445.06,177.73 446.59,178.26 448.12,178.78 449.65,179.29 451.18,179.8 452.71,180.31 454.24,180.8 455.77,181.29 457.3,181.77 458.83,182.25 460.36,182.72 461.89,183.19 463.42,183.64 464.95,184.08 466.48,184.5 468.01,184.9 469.54,185.29 471.07,185.66 472.6,186.02 474.13,186.37 475.66,186.71 477.19,187.06 478.72,187.4 480.25,187.74 481.78,188.07 483.31,188.4 484.84,188.73 486.37,189.05 487.9,189.36 489.43,189.68 490.96,190 492.57,190.33 494.31,190.69 496.09,191.05 497.85,191.41 499.51,191.75 501,192.05 502.26,192.31 503.2,192.5" fill="none" stroke="#1a1a1a" stroke-width="1.35" stroke-linejoin="round" />
<line x1="319.6" y1="159" x2="319.6" y2="168" stroke="#1a1a1a" stroke-width="1.15" />
<line x1="317.1" y1="159" x2="322.1" y2="159" stroke="#1a1a1a" stroke-width="1.15" />
<line x1="317.1" y1="168" x2="322.1" y2="168" stroke="#1a1a1a" stroke-width="1.15" />
<circle cx="319.6" cy="163.5" r="2.0" fill="#1a1a1a"/>
<circle cx="319.6" cy="162.1" r="2.5" fill="none" stroke="#1a1a1a" stroke-width="1.1"/>
<line x1="331.84" y1="153.5" x2="331.84" y2="161.1" stroke="#1a1a1a" stroke-width="1.15" />
<line x1="329.34" y1="153.5" x2="334.34" y2="153.5" stroke="#1a1a1a" stroke-width="1.15" />
<line x1="329.34" y1="161.1" x2="334.34" y2="161.1" stroke="#1a1a1a" stroke-width="1.15" />
<circle cx="331.84" cy="157.3" r="2.0" fill="#1a1a1a"/>
<circle cx="331.84" cy="157.3" r="2.5" fill="none" stroke="#1a1a1a" stroke-width="1.1"/>
<line x1="344.08" y1="145" x2="344.08" y2="153" stroke="#1a1a1a" stroke-width="1.15" />
<line x1="341.58" y1="145" x2="346.58" y2="145" stroke="#1a1a1a" stroke-width="1.15" />
<line x1="341.58" y1="153" x2="346.58" y2="153" stroke="#1a1a1a" stroke-width="1.15" />
<circle cx="344.08" cy="149" r="2.0" fill="#1a1a1a"/>
<circle cx="344.08" cy="150.2" r="2.5" fill="none" stroke="#1a1a1a" stroke-width="1.1"/>
<line x1="356.32" y1="138.3" x2="356.32" y2="146.7" stroke="#1a1a1a" stroke-width="1.15" />
<line x1="353.82" y1="138.3" x2="358.82" y2="138.3" stroke="#1a1a1a" stroke-width="1.15" />
<line x1="353.82" y1="146.7" x2="358.82" y2="146.7" stroke="#1a1a1a" stroke-width="1.15" />
<circle cx="356.32" cy="142.5" r="2.0" fill="#1a1a1a"/>
<circle cx="356.32" cy="152.2" r="2.5" fill="none" stroke="#1a1a1a" stroke-width="1.1"/>
<line x1="368.56" y1="144.3" x2="368.56" y2="151.7" stroke="#1a1a1a" stroke-width="1.15" />
<line x1="366.06" y1="144.3" x2="371.06" y2="144.3" stroke="#1a1a1a" stroke-width="1.15" />
<line x1="366.06" y1="151.7" x2="371.06" y2="151.7" stroke="#1a1a1a" stroke-width="1.15" />
<circle cx="368.56" cy="148" r="2.0" fill="#1a1a1a"/>
<circle cx="368.56" cy="152.3" r="2.5" fill="none" stroke="#1a1a1a" stroke-width="1.1"/>
<line x1="380.8" y1="146.8" x2="380.8" y2="154.2" stroke="#1a1a1a" stroke-width="1.15" />
<line x1="378.3" y1="146.8" x2="383.3" y2="146.8" stroke="#1a1a1a" stroke-width="1.15" />
<line x1="378.3" y1="154.2" x2="383.3" y2="154.2" stroke="#1a1a1a" stroke-width="1.15" />
<circle cx="380.8" cy="150.5" r="2.0" fill="#1a1a1a"/>
<circle cx="380.8" cy="151.7" r="2.5" fill="none" stroke="#1a1a1a" stroke-width="1.1"/>
<line x1="393.04" y1="154.8" x2="393.04" y2="161.6" stroke="#1a1a1a" stroke-width="1.15" />
<line x1="390.54" y1="154.8" x2="395.54" y2="154.8" stroke="#1a1a1a" stroke-width="1.15" />
<line x1="390.54" y1="161.6" x2="395.54" y2="161.6" stroke="#1a1a1a" stroke-width="1.15" />
<circle cx="393.04" cy="158.2" r="2.0" fill="#1a1a1a"/>
<circle cx="393.04" cy="158.2" r="2.5" fill="none" stroke="#1a1a1a" stroke-width="1.1"/>
<line x1="405.28" y1="161.6" x2="405.28" y2="169" stroke="#1a1a1a" stroke-width="1.15" />
<line x1="402.78" y1="161.6" x2="407.78" y2="161.6" stroke="#1a1a1a" stroke-width="1.15" />
<line x1="402.78" y1="169" x2="407.78" y2="169" stroke="#1a1a1a" stroke-width="1.15" />
<circle cx="405.28" cy="165.3" r="2.0" fill="#1a1a1a"/>
<circle cx="405.28" cy="164" r="2.5" fill="none" stroke="#1a1a1a" stroke-width="1.1"/>
<line x1="417.52" y1="170.3" x2="417.52" y2="176.9" stroke="#1a1a1a" stroke-width="1.15" />
<line x1="415.02" y1="170.3" x2="420.02" y2="170.3" stroke="#1a1a1a" stroke-width="1.15" />
<line x1="415.02" y1="176.9" x2="420.02" y2="176.9" stroke="#1a1a1a" stroke-width="1.15" />
<circle cx="417.52" cy="173.6" r="2.0" fill="#1a1a1a"/>
<circle cx="417.52" cy="166.6" r="2.5" fill="none" stroke="#1a1a1a" stroke-width="1.1"/>
<line x1="429.76" y1="173.4" x2="429.76" y2="180" stroke="#1a1a1a" stroke-width="1.15" />
<line x1="427.26" y1="173.4" x2="432.26" y2="173.4" stroke="#1a1a1a" stroke-width="1.15" />
<line x1="427.26" y1="180" x2="432.26" y2="180" stroke="#1a1a1a" stroke-width="1.15" />
<circle cx="429.76" cy="176.7" r="2.0" fill="#1a1a1a"/>
<circle cx="429.76" cy="172.6" r="2.5" fill="none" stroke="#1a1a1a" stroke-width="1.1"/>
<line x1="442" y1="175.3" x2="442" y2="181.3" stroke="#1a1a1a" stroke-width="1.15" />
<line x1="439.5" y1="175.3" x2="444.5" y2="175.3" stroke="#1a1a1a" stroke-width="1.15" />
<line x1="439.5" y1="181.3" x2="444.5" y2="181.3" stroke="#1a1a1a" stroke-width="1.15" />
<circle cx="442" cy="178.3" r="2.0" fill="#1a1a1a"/>
<circle cx="442" cy="176.7" r="2.5" fill="none" stroke="#1a1a1a" stroke-width="1.1"/>
<line x1="454.24" y1="177.5" x2="454.24" y2="184.1" stroke="#1a1a1a" stroke-width="1.15" />
<line x1="451.74" y1="177.5" x2="456.74" y2="177.5" stroke="#1a1a1a" stroke-width="1.15" />
<line x1="451.74" y1="184.1" x2="456.74" y2="184.1" stroke="#1a1a1a" stroke-width="1.15" />
<circle cx="454.24" cy="180.8" r="2.0" fill="#1a1a1a"/>
<circle cx="454.24" cy="180.8" r="2.5" fill="none" stroke="#1a1a1a" stroke-width="1.1"/>
<line x1="466.48" y1="183" x2="466.48" y2="189" stroke="#1a1a1a" stroke-width="1.15" />
<line x1="463.98" y1="183" x2="468.98" y2="183" stroke="#1a1a1a" stroke-width="1.15" />
<line x1="463.98" y1="189" x2="468.98" y2="189" stroke="#1a1a1a" stroke-width="1.15" />
<circle cx="466.48" cy="186" r="2.0" fill="#1a1a1a"/>
<circle cx="466.48" cy="184.5" r="2.5" fill="none" stroke="#1a1a1a" stroke-width="1.1"/>
<line x1="478.72" y1="179.9" x2="478.72" y2="185.9" stroke="#1a1a1a" stroke-width="1.15" />
<line x1="476.22" y1="179.9" x2="481.22" y2="179.9" stroke="#1a1a1a" stroke-width="1.15" />
<line x1="476.22" y1="185.9" x2="481.22" y2="185.9" stroke="#1a1a1a" stroke-width="1.15" />
<circle cx="478.72" cy="182.9" r="2.0" fill="#1a1a1a"/>
<circle cx="478.72" cy="187.4" r="2.5" fill="none" stroke="#1a1a1a" stroke-width="1.1"/>
<line x1="490.96" y1="188" x2="490.96" y2="196" stroke="#1a1a1a" stroke-width="1.15" />
<line x1="488.46" y1="188" x2="493.46" y2="188" stroke="#1a1a1a" stroke-width="1.15" />
<line x1="488.46" y1="196" x2="493.46" y2="196" stroke="#1a1a1a" stroke-width="1.15" />
<circle cx="490.96" cy="192" r="2.0" fill="#1a1a1a"/>
<circle cx="490.96" cy="190" r="2.5" fill="none" stroke="#1a1a1a" stroke-width="1.1"/>
<line x1="503.2" y1="177" x2="503.2" y2="184.6" stroke="#1a1a1a" stroke-width="1.15" />
<line x1="500.7" y1="177" x2="505.7" y2="177" stroke="#1a1a1a" stroke-width="1.15" />
<line x1="500.7" y1="184.6" x2="505.7" y2="184.6" stroke="#1a1a1a" stroke-width="1.15" />
<circle cx="503.2" cy="180.8" r="2.0" fill="#1a1a1a"/>
<circle cx="503.2" cy="192.5" r="2.5" fill="none" stroke="#1a1a1a" stroke-width="1.1"/>
<polyline points="319.6,224.9 331.84,228.4 344.08,228.6 356.32,235.8 368.56,231.6 380.8,229.1 393.04,227.6 405.28,225.9 417.52,220.7 429.76,223.6 442,226.8 454.24,227.9 466.48,226.8 478.72,233 490.96,224.7 503.2,238.2" fill="none" stroke="#1a1a1a" stroke-width="1.15" stroke-linejoin="round" />
<path d="M317.8,226.1 L321.4,226.1 L319.6,223 Z" fill="#1a1a1a"/>
<path d="M330.04,229.6 L333.64,229.6 L331.84,226.5 Z" fill="#1a1a1a"/>
<path d="M342.28,229.8 L345.88,229.8 L344.08,226.7 Z" fill="#1a1a1a"/>
<path d="M354.52,237 L358.12,237 L356.32,233.9 Z" fill="#1a1a1a"/>
<path d="M366.76,232.8 L370.36,232.8 L368.56,229.7 Z" fill="#1a1a1a"/>
<path d="M379,230.3 L382.6,230.3 L380.8,227.2 Z" fill="#1a1a1a"/>
<path d="M391.24,228.8 L394.84,228.8 L393.04,225.7 Z" fill="#1a1a1a"/>
<path d="M403.48,227.1 L407.08,227.1 L405.28,224 Z" fill="#1a1a1a"/>
<path d="M415.72,221.9 L419.32,221.9 L417.52,218.8 Z" fill="#1a1a1a"/>
<path d="M427.96,224.8 L431.56,224.8 L429.76,221.7 Z" fill="#1a1a1a"/>
<path d="M440.2,228 L443.8,228 L442,224.9 Z" fill="#1a1a1a"/>
<path d="M452.44,229.1 L456.04,229.1 L454.24,226 Z" fill="#1a1a1a"/>
<path d="M464.68,228 L468.28,228 L466.48,224.9 Z" fill="#1a1a1a"/>
<path d="M476.92,234.2 L480.52,234.2 L478.72,231.1 Z" fill="#1a1a1a"/>
<path d="M489.16,225.9 L492.76,225.9 L490.96,222.8 Z" fill="#1a1a1a"/>
<path d="M501.4,239.4 L505,239.4 L503.2,236.3 Z" fill="#1a1a1a"/>
<rect x="47.7" y="300.2" width="140" height="83" fill="none" stroke="#1a1a1a" stroke-width="1.35"/>
<line x1="61.75" y1="383.2" x2="61.75" y2="379.4" stroke="#1a1a1a" stroke-width="1.1" />
<line x1="61.75" y1="300.2" x2="61.75" y2="304" stroke="#1a1a1a" stroke-width="1.1" />
<line x1="69.97" y1="383.2" x2="69.97" y2="379.4" stroke="#1a1a1a" stroke-width="1.1" />
<line x1="69.97" y1="300.2" x2="69.97" y2="304" stroke="#1a1a1a" stroke-width="1.1" />
<line x1="75.8" y1="383.2" x2="75.8" y2="379.4" stroke="#1a1a1a" stroke-width="1.1" />
<line x1="75.8" y1="300.2" x2="75.8" y2="304" stroke="#1a1a1a" stroke-width="1.1" />
<line x1="80.32" y1="383.2" x2="80.32" y2="379.4" stroke="#1a1a1a" stroke-width="1.1" />
<line x1="80.32" y1="300.2" x2="80.32" y2="304" stroke="#1a1a1a" stroke-width="1.1" />
<line x1="84.01" y1="383.2" x2="84.01" y2="379.4" stroke="#1a1a1a" stroke-width="1.1" />
<line x1="84.01" y1="300.2" x2="84.01" y2="304" stroke="#1a1a1a" stroke-width="1.1" />
<line x1="87.14" y1="383.2" x2="87.14" y2="379.4" stroke="#1a1a1a" stroke-width="1.1" />
<line x1="87.14" y1="300.2" x2="87.14" y2="304" stroke="#1a1a1a" stroke-width="1.1" />
<line x1="89.84" y1="383.2" x2="89.84" y2="379.4" stroke="#1a1a1a" stroke-width="1.1" />
<line x1="89.84" y1="300.2" x2="89.84" y2="304" stroke="#1a1a1a" stroke-width="1.1" />
<line x1="92.23" y1="383.2" x2="92.23" y2="379.4" stroke="#1a1a1a" stroke-width="1.1" />
<line x1="92.23" y1="300.2" x2="92.23" y2="304" stroke="#1a1a1a" stroke-width="1.1" />
<line x1="94.37" y1="383.2" x2="94.37" y2="375.8" stroke="#1a1a1a" stroke-width="1.1" />
<line x1="94.37" y1="300.2" x2="94.37" y2="307.6" stroke="#1a1a1a" stroke-width="1.1" />
<line x1="108.41" y1="383.2" x2="108.41" y2="379.4" stroke="#1a1a1a" stroke-width="1.1" />
<line x1="108.41" y1="300.2" x2="108.41" y2="304" stroke="#1a1a1a" stroke-width="1.1" />
<line x1="116.63" y1="383.2" x2="116.63" y2="379.4" stroke="#1a1a1a" stroke-width="1.1" />
<line x1="116.63" y1="300.2" x2="116.63" y2="304" stroke="#1a1a1a" stroke-width="1.1" />
<line x1="122.46" y1="383.2" x2="122.46" y2="379.4" stroke="#1a1a1a" stroke-width="1.1" />
<line x1="122.46" y1="300.2" x2="122.46" y2="304" stroke="#1a1a1a" stroke-width="1.1" />
<line x1="126.99" y1="383.2" x2="126.99" y2="379.4" stroke="#1a1a1a" stroke-width="1.1" />
<line x1="126.99" y1="300.2" x2="126.99" y2="304" stroke="#1a1a1a" stroke-width="1.1" />
<line x1="130.68" y1="383.2" x2="130.68" y2="379.4" stroke="#1a1a1a" stroke-width="1.1" />
<line x1="130.68" y1="300.2" x2="130.68" y2="304" stroke="#1a1a1a" stroke-width="1.1" />
<line x1="133.8" y1="383.2" x2="133.8" y2="379.4" stroke="#1a1a1a" stroke-width="1.1" />
<line x1="133.8" y1="300.2" x2="133.8" y2="304" stroke="#1a1a1a" stroke-width="1.1" />
<line x1="136.51" y1="383.2" x2="136.51" y2="379.4" stroke="#1a1a1a" stroke-width="1.1" />
<line x1="136.51" y1="300.2" x2="136.51" y2="304" stroke="#1a1a1a" stroke-width="1.1" />
<line x1="138.9" y1="383.2" x2="138.9" y2="379.4" stroke="#1a1a1a" stroke-width="1.1" />
<line x1="138.9" y1="300.2" x2="138.9" y2="304" stroke="#1a1a1a" stroke-width="1.1" />
<line x1="141.03" y1="383.2" x2="141.03" y2="375.8" stroke="#1a1a1a" stroke-width="1.1" />
<line x1="141.03" y1="300.2" x2="141.03" y2="307.6" stroke="#1a1a1a" stroke-width="1.1" />
<line x1="155.08" y1="383.2" x2="155.08" y2="379.4" stroke="#1a1a1a" stroke-width="1.1" />
<line x1="155.08" y1="300.2" x2="155.08" y2="304" stroke="#1a1a1a" stroke-width="1.1" />
<line x1="163.3" y1="383.2" x2="163.3" y2="379.4" stroke="#1a1a1a" stroke-width="1.1" />
<line x1="163.3" y1="300.2" x2="163.3" y2="304" stroke="#1a1a1a" stroke-width="1.1" />
<line x1="169.13" y1="383.2" x2="169.13" y2="379.4" stroke="#1a1a1a" stroke-width="1.1" />
<line x1="169.13" y1="300.2" x2="169.13" y2="304" stroke="#1a1a1a" stroke-width="1.1" />
<line x1="173.65" y1="383.2" x2="173.65" y2="379.4" stroke="#1a1a1a" stroke-width="1.1" />
<line x1="173.65" y1="300.2" x2="173.65" y2="304" stroke="#1a1a1a" stroke-width="1.1" />
<line x1="177.35" y1="383.2" x2="177.35" y2="379.4" stroke="#1a1a1a" stroke-width="1.1" />
<line x1="177.35" y1="300.2" x2="177.35" y2="304" stroke="#1a1a1a" stroke-width="1.1" />
<line x1="180.47" y1="383.2" x2="180.47" y2="379.4" stroke="#1a1a1a" stroke-width="1.1" />
<line x1="180.47" y1="300.2" x2="180.47" y2="304" stroke="#1a1a1a" stroke-width="1.1" />
<line x1="183.18" y1="383.2" x2="183.18" y2="379.4" stroke="#1a1a1a" stroke-width="1.1" />
<line x1="183.18" y1="300.2" x2="183.18" y2="304" stroke="#1a1a1a" stroke-width="1.1" />
<line x1="185.56" y1="383.2" x2="185.56" y2="379.4" stroke="#1a1a1a" stroke-width="1.1" />
<line x1="185.56" y1="300.2" x2="185.56" y2="304" stroke="#1a1a1a" stroke-width="1.1" />
<line x1="47.7" y1="373.11" x2="51.5" y2="373.11" stroke="#1a1a1a" stroke-width="1.1" />
<line x1="187.7" y1="373.11" x2="183.9" y2="373.11" stroke="#1a1a1a" stroke-width="1.1" />
<line x1="47.7" y1="367.21" x2="51.5" y2="367.21" stroke="#1a1a1a" stroke-width="1.1" />
<line x1="187.7" y1="367.21" x2="183.9" y2="367.21" stroke="#1a1a1a" stroke-width="1.1" />
<line x1="47.7" y1="363.03" x2="51.5" y2="363.03" stroke="#1a1a1a" stroke-width="1.1" />
<line x1="187.7" y1="363.03" x2="183.9" y2="363.03" stroke="#1a1a1a" stroke-width="1.1" />
<line x1="47.7" y1="359.78" x2="51.5" y2="359.78" stroke="#1a1a1a" stroke-width="1.1" />
<line x1="187.7" y1="359.78" x2="183.9" y2="359.78" stroke="#1a1a1a" stroke-width="1.1" />
<line x1="47.7" y1="357.13" x2="51.5" y2="357.13" stroke="#1a1a1a" stroke-width="1.1" />
<line x1="187.7" y1="357.13" x2="183.9" y2="357.13" stroke="#1a1a1a" stroke-width="1.1" />
<line x1="47.7" y1="354.88" x2="51.5" y2="354.88" stroke="#1a1a1a" stroke-width="1.1" />
<line x1="187.7" y1="354.88" x2="183.9" y2="354.88" stroke="#1a1a1a" stroke-width="1.1" />
<line x1="47.7" y1="352.94" x2="51.5" y2="352.94" stroke="#1a1a1a" stroke-width="1.1" />
<line x1="187.7" y1="352.94" x2="183.9" y2="352.94" stroke="#1a1a1a" stroke-width="1.1" />
<line x1="47.7" y1="351.23" x2="51.5" y2="351.23" stroke="#1a1a1a" stroke-width="1.1" />
<line x1="187.7" y1="351.23" x2="183.9" y2="351.23" stroke="#1a1a1a" stroke-width="1.1" />
<line x1="47.7" y1="349.69" x2="55.1" y2="349.69" stroke="#1a1a1a" stroke-width="1.1" />
<line x1="187.7" y1="349.69" x2="180.3" y2="349.69" stroke="#1a1a1a" stroke-width="1.1" />
<line x1="47.7" y1="339.61" x2="51.5" y2="339.61" stroke="#1a1a1a" stroke-width="1.1" />
<line x1="187.7" y1="339.61" x2="183.9" y2="339.61" stroke="#1a1a1a" stroke-width="1.1" />
<line x1="47.7" y1="333.71" x2="51.5" y2="333.71" stroke="#1a1a1a" stroke-width="1.1" />
<line x1="187.7" y1="333.71" x2="183.9" y2="333.71" stroke="#1a1a1a" stroke-width="1.1" />
<line x1="47.7" y1="329.52" x2="51.5" y2="329.52" stroke="#1a1a1a" stroke-width="1.1" />
<line x1="187.7" y1="329.52" x2="183.9" y2="329.52" stroke="#1a1a1a" stroke-width="1.1" />
<line x1="47.7" y1="326.27" x2="51.5" y2="326.27" stroke="#1a1a1a" stroke-width="1.1" />
<line x1="187.7" y1="326.27" x2="183.9" y2="326.27" stroke="#1a1a1a" stroke-width="1.1" />
<line x1="47.7" y1="323.62" x2="51.5" y2="323.62" stroke="#1a1a1a" stroke-width="1.1" />
<line x1="187.7" y1="323.62" x2="183.9" y2="323.62" stroke="#1a1a1a" stroke-width="1.1" />
<line x1="47.7" y1="321.38" x2="51.5" y2="321.38" stroke="#1a1a1a" stroke-width="1.1" />
<line x1="187.7" y1="321.38" x2="183.9" y2="321.38" stroke="#1a1a1a" stroke-width="1.1" />
<line x1="47.7" y1="319.43" x2="51.5" y2="319.43" stroke="#1a1a1a" stroke-width="1.1" />
<line x1="187.7" y1="319.43" x2="183.9" y2="319.43" stroke="#1a1a1a" stroke-width="1.1" />
<line x1="47.7" y1="317.72" x2="51.5" y2="317.72" stroke="#1a1a1a" stroke-width="1.1" />
<line x1="187.7" y1="317.72" x2="183.9" y2="317.72" stroke="#1a1a1a" stroke-width="1.1" />
<line x1="47.7" y1="316.19" x2="55.1" y2="316.19" stroke="#1a1a1a" stroke-width="1.1" />
<line x1="187.7" y1="316.19" x2="180.3" y2="316.19" stroke="#1a1a1a" stroke-width="1.1" />
<line x1="47.7" y1="306.1" x2="51.5" y2="306.1" stroke="#1a1a1a" stroke-width="1.1" />
<line x1="187.7" y1="306.1" x2="183.9" y2="306.1" stroke="#1a1a1a" stroke-width="1.1" />
<polyline points="48.3,356.5 48.6,358.05 49.02,360.3 49.51,362.67 50,364.6 50.48,365.91 50.98,366.91 51.49,367.76 52,368.6 52.49,369.46 52.96,370.26 53.46,371.01 54,371.7 54.62,372.36 55.3,372.97 55.98,373.5 56.6,373.9 57.13,374.16 57.59,374.3 58.06,374.34 58.6,374.3 59.23,374.19 59.91,373.99 60.61,373.7 61.3,373.3 61.96,372.81 62.61,372.22 63.28,371.5 64,370.6 64.77,369.47 65.57,368.16 66.41,366.74 67.3,365.3 68.27,363.79 69.3,362.19 70.33,360.65 71.3,359.3 72.16,358.2 72.95,357.26 73.74,356.44 74.6,355.7 75.55,355.03 76.56,354.44 77.58,353.96 78.6,353.6 79.6,353.38 80.6,353.28 81.6,353.26 82.6,353.3 83.6,353.4 84.6,353.57 85.6,353.79 86.6,354 87.65,354.23 88.72,354.49 89.74,354.73 90.6,354.9 91.21,354.99 91.64,355.04 92.06,355.01 92.6,354.9 93.3,354.71 94.08,354.44 94.95,354.07 95.9,353.6 96.96,352.96 98.12,352.18 99.35,351.36 100.6,350.6 101.88,349.93 103.21,349.29 104.56,348.66 105.9,348 107.24,347.3 108.58,346.57 109.91,345.83 111.2,345.1 112.41,344.41 113.58,343.73 114.75,343.02 116,342.2 117.36,341.25 118.8,340.21 120.26,339.12 121.7,338 123.06,336.87 124.38,335.72 125.76,334.53 127.3,333.3 129.06,332.01 130.98,330.68 132.96,329.32 134.9,328 136.82,326.68 138.77,325.35 140.65,324.07 142.4,322.9 143.97,321.84 145.43,320.88 146.79,319.99 148.1,319.2 149.4,318.49 150.66,317.86 151.82,317.32 152.8,316.9 153.56,316.59 154.15,316.39 154.64,316.3 155.1,316.3 155.52,316.37 155.87,316.53 156.22,316.82 156.6,317.3 157.05,317.99 157.53,318.86 158.02,319.87 158.5,321 158.95,322.28 159.4,323.73 159.85,325.23 160.3,326.7 160.74,328.17 161.18,329.67 161.65,331.12 162.2,332.4 162.84,333.49 163.54,334.45 164.3,335.31 165.1,336.1 165.99,336.79 166.95,337.38 167.91,337.95 168.8,338.6 169.61,339.32 170.37,340.06 171.07,340.88 171.7,341.8 172.22,342.8 172.66,343.88 173.07,345.09 173.5,346.5 173.97,348.15 174.44,350.01 174.92,352.01 175.4,354.1 175.88,356.34 176.35,358.74 176.83,361.17 177.3,363.5 177.79,365.76 178.29,367.99 178.77,370.1 179.2,372 179.6,373.74 179.97,375.33 180.28,376.66 180.5,377.6" fill="none" stroke="#1a1a1a" stroke-width="1.35" stroke-linejoin="round" />
<rect x="221" y="300" width="122.9" height="83.4" fill="none" stroke="#1a1a1a" stroke-width="1.35"/>
<line x1="233.29" y1="383.4" x2="233.29" y2="379.6" stroke="#1a1a1a" stroke-width="1.1" />
<line x1="233.29" y1="300" x2="233.29" y2="303.8" stroke="#1a1a1a" stroke-width="1.1" />
<line x1="245.58" y1="383.4" x2="245.58" y2="379.6" stroke="#1a1a1a" stroke-width="1.1" />
<line x1="245.58" y1="300" x2="245.58" y2="303.8" stroke="#1a1a1a" stroke-width="1.1" />
<line x1="257.87" y1="383.4" x2="257.87" y2="379.6" stroke="#1a1a1a" stroke-width="1.1" />
<line x1="257.87" y1="300" x2="257.87" y2="303.8" stroke="#1a1a1a" stroke-width="1.1" />
<line x1="270.16" y1="383.4" x2="270.16" y2="379.6" stroke="#1a1a1a" stroke-width="1.1" />
<line x1="270.16" y1="300" x2="270.16" y2="303.8" stroke="#1a1a1a" stroke-width="1.1" />
<line x1="282.45" y1="383.4" x2="282.45" y2="376" stroke="#1a1a1a" stroke-width="1.1" />
<line x1="282.45" y1="300" x2="282.45" y2="307.4" stroke="#1a1a1a" stroke-width="1.1" />
<line x1="294.74" y1="383.4" x2="294.74" y2="379.6" stroke="#1a1a1a" stroke-width="1.1" />
<line x1="294.74" y1="300" x2="294.74" y2="303.8" stroke="#1a1a1a" stroke-width="1.1" />
<line x1="307.03" y1="383.4" x2="307.03" y2="379.6" stroke="#1a1a1a" stroke-width="1.1" />
<line x1="307.03" y1="300" x2="307.03" y2="303.8" stroke="#1a1a1a" stroke-width="1.1" />
<line x1="319.32" y1="383.4" x2="319.32" y2="379.6" stroke="#1a1a1a" stroke-width="1.1" />
<line x1="319.32" y1="300" x2="319.32" y2="303.8" stroke="#1a1a1a" stroke-width="1.1" />
<line x1="331.61" y1="383.4" x2="331.61" y2="379.6" stroke="#1a1a1a" stroke-width="1.1" />
<line x1="331.61" y1="300" x2="331.61" y2="303.8" stroke="#1a1a1a" stroke-width="1.1" />
<line x1="221" y1="372.97" x2="224.8" y2="372.97" stroke="#1a1a1a" stroke-width="1.1" />
<line x1="343.9" y1="372.97" x2="340.1" y2="372.97" stroke="#1a1a1a" stroke-width="1.1" />
<line x1="221" y1="362.55" x2="224.8" y2="362.55" stroke="#1a1a1a" stroke-width="1.1" />
<line x1="343.9" y1="362.55" x2="340.1" y2="362.55" stroke="#1a1a1a" stroke-width="1.1" />
<line x1="221" y1="352.12" x2="224.8" y2="352.12" stroke="#1a1a1a" stroke-width="1.1" />
<line x1="343.9" y1="352.12" x2="340.1" y2="352.12" stroke="#1a1a1a" stroke-width="1.1" />
<line x1="221" y1="341.7" x2="224.8" y2="341.7" stroke="#1a1a1a" stroke-width="1.1" />
<line x1="343.9" y1="341.7" x2="340.1" y2="341.7" stroke="#1a1a1a" stroke-width="1.1" />
<line x1="221" y1="331.27" x2="228.4" y2="331.27" stroke="#1a1a1a" stroke-width="1.1" />
<line x1="343.9" y1="331.27" x2="336.5" y2="331.27" stroke="#1a1a1a" stroke-width="1.1" />
<line x1="221" y1="320.85" x2="224.8" y2="320.85" stroke="#1a1a1a" stroke-width="1.1" />
<line x1="343.9" y1="320.85" x2="340.1" y2="320.85" stroke="#1a1a1a" stroke-width="1.1" />
<line x1="221" y1="310.43" x2="224.8" y2="310.43" stroke="#1a1a1a" stroke-width="1.1" />
<line x1="343.9" y1="310.43" x2="340.1" y2="310.43" stroke="#1a1a1a" stroke-width="1.1" />
<polyline points="221.3,377.9 249,376.2 249,370.9 274.6,369.5 274.6,364.6 282.3,364.4 282.3,355.7 291,355.1 291,345.8 295.7,345.5 295.7,340.5 304,339.4 304,330.1 310.1,329.4 310.1,324.6 328.7,323.2 328.7,315 336.1,314.6 336.1,308.2 343.3,307.9" fill="none" stroke="#1a1a1a" stroke-width="1.35" stroke-linejoin="round" stroke-linejoin="miter"/>
<polyline points="221.5,382.4 260,381.6 300,380.4 343.3,378.6" fill="none" stroke="#1a1a1a" stroke-width="1.15" stroke-linejoin="round" stroke-dasharray="1.3 2.8"/>
<rect x="383.65" y="299.8" width="133.15" height="83.7" fill="none" stroke="#1a1a1a" stroke-width="1.35"/>
<line x1="390.31" y1="383.5" x2="390.31" y2="379.7" stroke="#1a1a1a" stroke-width="1.1" />
<line x1="390.31" y1="299.8" x2="390.31" y2="303.6" stroke="#1a1a1a" stroke-width="1.1" />
<line x1="396.96" y1="383.5" x2="396.96" y2="379.7" stroke="#1a1a1a" stroke-width="1.1" />
<line x1="396.96" y1="299.8" x2="396.96" y2="303.6" stroke="#1a1a1a" stroke-width="1.1" />
<line x1="403.62" y1="383.5" x2="403.62" y2="379.7" stroke="#1a1a1a" stroke-width="1.1" />
<line x1="403.62" y1="299.8" x2="403.62" y2="303.6" stroke="#1a1a1a" stroke-width="1.1" />
<line x1="410.28" y1="383.5" x2="410.28" y2="379.7" stroke="#1a1a1a" stroke-width="1.1" />
<line x1="410.28" y1="299.8" x2="410.28" y2="303.6" stroke="#1a1a1a" stroke-width="1.1" />
<line x1="416.94" y1="383.5" x2="416.94" y2="376.1" stroke="#1a1a1a" stroke-width="1.1" />
<line x1="416.94" y1="299.8" x2="416.94" y2="307.2" stroke="#1a1a1a" stroke-width="1.1" />
<line x1="423.59" y1="383.5" x2="423.59" y2="379.7" stroke="#1a1a1a" stroke-width="1.1" />
<line x1="423.59" y1="299.8" x2="423.59" y2="303.6" stroke="#1a1a1a" stroke-width="1.1" />
<line x1="430.25" y1="383.5" x2="430.25" y2="379.7" stroke="#1a1a1a" stroke-width="1.1" />
<line x1="430.25" y1="299.8" x2="430.25" y2="303.6" stroke="#1a1a1a" stroke-width="1.1" />
<line x1="436.91" y1="383.5" x2="436.91" y2="379.7" stroke="#1a1a1a" stroke-width="1.1" />
<line x1="436.91" y1="299.8" x2="436.91" y2="303.6" stroke="#1a1a1a" stroke-width="1.1" />
<line x1="443.57" y1="383.5" x2="443.57" y2="379.7" stroke="#1a1a1a" stroke-width="1.1" />
<line x1="443.57" y1="299.8" x2="443.57" y2="303.6" stroke="#1a1a1a" stroke-width="1.1" />
<line x1="450.22" y1="383.5" x2="450.22" y2="376.1" stroke="#1a1a1a" stroke-width="1.1" />
<line x1="450.22" y1="299.8" x2="450.22" y2="307.2" stroke="#1a1a1a" stroke-width="1.1" />
<line x1="456.88" y1="383.5" x2="456.88" y2="379.7" stroke="#1a1a1a" stroke-width="1.1" />
<line x1="456.88" y1="299.8" x2="456.88" y2="303.6" stroke="#1a1a1a" stroke-width="1.1" />
<line x1="463.54" y1="383.5" x2="463.54" y2="379.7" stroke="#1a1a1a" stroke-width="1.1" />
<line x1="463.54" y1="299.8" x2="463.54" y2="303.6" stroke="#1a1a1a" stroke-width="1.1" />
<line x1="470.2" y1="383.5" x2="470.2" y2="379.7" stroke="#1a1a1a" stroke-width="1.1" />
<line x1="470.2" y1="299.8" x2="470.2" y2="303.6" stroke="#1a1a1a" stroke-width="1.1" />
<line x1="476.85" y1="383.5" x2="476.85" y2="379.7" stroke="#1a1a1a" stroke-width="1.1" />
<line x1="476.85" y1="299.8" x2="476.85" y2="303.6" stroke="#1a1a1a" stroke-width="1.1" />
<line x1="483.51" y1="383.5" x2="483.51" y2="376.1" stroke="#1a1a1a" stroke-width="1.1" />
<line x1="483.51" y1="299.8" x2="483.51" y2="307.2" stroke="#1a1a1a" stroke-width="1.1" />
<line x1="490.17" y1="383.5" x2="490.17" y2="379.7" stroke="#1a1a1a" stroke-width="1.1" />
<line x1="490.17" y1="299.8" x2="490.17" y2="303.6" stroke="#1a1a1a" stroke-width="1.1" />
<line x1="496.83" y1="383.5" x2="496.83" y2="379.7" stroke="#1a1a1a" stroke-width="1.1" />
<line x1="496.83" y1="299.8" x2="496.83" y2="303.6" stroke="#1a1a1a" stroke-width="1.1" />
<line x1="503.48" y1="383.5" x2="503.48" y2="379.7" stroke="#1a1a1a" stroke-width="1.1" />
<line x1="503.48" y1="299.8" x2="503.48" y2="303.6" stroke="#1a1a1a" stroke-width="1.1" />
<line x1="510.14" y1="383.5" x2="510.14" y2="379.7" stroke="#1a1a1a" stroke-width="1.1" />
<line x1="510.14" y1="299.8" x2="510.14" y2="303.6" stroke="#1a1a1a" stroke-width="1.1" />
<line x1="383.65" y1="310.26" x2="387.45" y2="310.26" stroke="#1a1a1a" stroke-width="1.1" />
<line x1="516.8" y1="310.26" x2="513" y2="310.26" stroke="#1a1a1a" stroke-width="1.1" />
<line x1="383.65" y1="320.73" x2="391.05" y2="320.73" stroke="#1a1a1a" stroke-width="1.1" />
<line x1="516.8" y1="320.73" x2="509.4" y2="320.73" stroke="#1a1a1a" stroke-width="1.1" />
<line x1="383.65" y1="331.19" x2="387.45" y2="331.19" stroke="#1a1a1a" stroke-width="1.1" />
<line x1="516.8" y1="331.19" x2="513" y2="331.19" stroke="#1a1a1a" stroke-width="1.1" />
<line x1="383.65" y1="341.65" x2="391.05" y2="341.65" stroke="#1a1a1a" stroke-width="1.1" />
<line x1="516.8" y1="341.65" x2="509.4" y2="341.65" stroke="#1a1a1a" stroke-width="1.1" />
<line x1="383.65" y1="352.11" x2="387.45" y2="352.11" stroke="#1a1a1a" stroke-width="1.1" />
<line x1="516.8" y1="352.11" x2="513" y2="352.11" stroke="#1a1a1a" stroke-width="1.1" />
<line x1="383.65" y1="362.57" x2="391.05" y2="362.57" stroke="#1a1a1a" stroke-width="1.1" />
<line x1="516.8" y1="362.57" x2="509.4" y2="362.57" stroke="#1a1a1a" stroke-width="1.1" />
<line x1="383.65" y1="373.04" x2="387.45" y2="373.04" stroke="#1a1a1a" stroke-width="1.1" />
<line x1="516.8" y1="373.04" x2="513" y2="373.04" stroke="#1a1a1a" stroke-width="1.1" />
<polyline points="392,383.5 392.45,383.03 393.1,382.36 393.87,381.58 394.7,380.8 395.58,380.02 396.54,379.19 397.58,378.35 398.7,377.5 399.9,376.65 401.18,375.8 402.55,374.95 404,374.1 405.58,373.25 407.26,372.41 408.99,371.58 410.7,370.8 412.38,370.08 414.05,369.41 415.72,368.76 417.4,368.1 419.07,367.44 420.75,366.79 422.43,366.12 424.1,365.4 425.78,364.63 427.45,363.83 429.13,362.99 430.8,362.1 432.54,361.14 434.32,360.11 436.01,359.07 437.5,358.1 438.71,357.19 439.73,356.32 440.63,355.49 441.5,354.7 442.34,354 443.11,353.38 443.85,352.72 444.6,351.9 445.38,350.88 446.18,349.74 446.93,348.5 447.6,347.2 448.17,345.83 448.68,344.38 449.11,342.88 449.5,341.4 449.82,339.92 450.07,338.43 450.29,336.95 450.5,335.5 450.71,334.08 450.89,332.67 451.08,331.3 451.3,330 451.51,328.79 451.72,327.66 451.99,326.55 452.4,325.4 453,324.16 453.74,322.88 454.54,321.63 455.3,320.5 455.97,319.52 456.62,318.64 457.3,317.82 458.1,317 459.02,316.17 460.03,315.36 461.12,314.57 462.3,313.8 463.57,313.05 464.92,312.32 466.36,311.61 467.9,310.9 469.54,310.18 471.27,309.47 473.1,308.77 475,308.1 477.01,307.46 479.12,306.84 481.27,306.25 483.4,305.7 485.5,305.21 487.59,304.76 489.69,304.33 491.8,303.9 493.92,303.46 496.05,303.02 498.18,302.6 500.3,302.2 502.43,301.82 504.56,301.45 506.66,301.11 508.7,300.8 510.83,300.52 513.02,300.26 514.95,300.05 516.3,299.9" fill="none" stroke="#1a1a1a" stroke-width="1.35" stroke-linejoin="round" />
<polyline points="443.3,383.4 443.37,382.93 443.46,382.28 443.59,381.41 443.8,380.3 444.1,378.84 444.48,377.08 444.89,375.21 445.3,373.4 445.7,371.68 446.1,369.95 446.5,368.25 446.9,366.6 447.27,365.03 447.62,363.51 447.99,362.01 448.4,360.5 448.85,358.94 449.33,357.36 449.85,355.82 450.4,354.4 451,353.14 451.64,352.01 452.31,350.91 453,349.8 453.7,348.63 454.42,347.45 455.18,346.29 456,345.2 456.88,344.17 457.8,343.19 458.78,342.26 459.8,341.4 460.88,340.62 462,339.93 463.18,339.26 464.4,338.6 465.67,337.91 467,337.23 468.37,336.58 469.8,336 471.29,335.54 472.85,335.16 474.43,334.78 476,334.3 477.55,333.65 479.1,332.91 480.65,332.16 482.2,331.5 483.75,330.97 485.3,330.52 486.85,330.11 488.4,329.7 489.95,329.3 491.5,328.92 493.05,328.55 494.6,328.2 496.15,327.85 497.69,327.51 499.24,327.19 500.8,326.9 502.3,326.65 503.76,326.44 505.32,326.24 507.1,326 509.41,325.69 512.09,325.34 514.58,325.02 516.3,324.8" fill="none" stroke="#1a1a1a" stroke-width="1.15" stroke-linejoin="round" stroke-dasharray="1.3 2.1"/>
<polyline points="448.3,383.4 448.43,383.08 448.61,382.63 448.86,382 449.2,381.1 449.66,379.81 450.22,378.19 450.84,376.51 451.5,375 452.18,373.71 452.91,372.51 453.68,371.41 454.5,370.4 455.38,369.5 456.3,368.71 457.28,367.98 458.3,367.3 459.38,366.65 460.51,366.05 461.68,365.5 462.9,365 464.17,364.57 465.5,364.21 466.85,363.86 468.2,363.5 469.55,363.1 470.9,362.68 472.25,362.27 473.6,361.9 474.98,361.57 476.38,361.27 477.72,360.99 478.9,360.7 479.8,360.41 480.49,360.12 481.22,359.82 482.2,359.5 483.55,359.15 485.12,358.77 486.78,358.39 488.4,358 489.95,357.6 491.5,357.19 493.05,356.78 494.6,356.4 496.15,356.05 497.69,355.72 499.24,355.41 500.8,355.1 502.3,354.8 503.76,354.51 505.32,354.22 507.1,353.9 509.41,353.51 512.09,353.07 514.58,352.68 516.3,352.4" fill="none" stroke="#1a1a1a" stroke-width="1.15" stroke-linejoin="round" stroke-dasharray="1.3 2.1"/>
<text class="t" font-size="11.2" textLength="39.52" lengthAdjust="spacing" transform="translate(255.5,8.9) scale(1.16,1)">GX 5&#8722;1</text>
<text class="t" font-size="12.2" textLength="12.81" lengthAdjust="spacing" transform="translate(28.5,68.37) scale(1.16,1)">20</text>
<text class="t" font-size="12.2" textLength="12.03" lengthAdjust="spacing" transform="translate(29.5,44.03) scale(1.16,1)">40</text>
<text class="t" font-size="12.2" textLength="13.33" lengthAdjust="spacing" transform="translate(28,101.08) scale(1.16,1)">+4</text>
<text class="t" font-size="12.2" textLength="13.33" lengthAdjust="spacing" transform="translate(28,129.72) scale(1.16,1)">&#8722;4</text>
<text class="t" font-size="12.2" textLength="27.5" lengthAdjust="spacing" transform="translate(14.5,68.5) rotate(-90) scale(1.16,1)"><tspan font-style="italic">&#952;</tspan><tspan dy="-3.6" font-size="7.4">2</tspan><tspan dy="3.6">I/F</tspan></text>
<text class="t" font-size="12.2" textLength="25.04" lengthAdjust="spacing" transform="translate(11.7,121.75) rotate(-90) scale(0.9,1)">DEV</text>
<text class="t" font-size="12.2" textLength="45.64" lengthAdjust="spacing" transform="translate(196,30.6) scale(1.16,1)">2&#8722;3&#8194;keV</text>
<text class="t" font-size="12.2" textLength="40.41" lengthAdjust="spacing" transform="translate(135.5,62.3) scale(1.16,1)">c<tspan dy="3.1" font-size="7.4">1</tspan><tspan dy="-3.1">=</tspan><tspan dy="2.1">1.00</tspan></text>
<text class="t" font-size="12.2" textLength="41.29" lengthAdjust="spacing" transform="translate(134.5,79.4) scale(1.16,1)">Q<tspan dy="3.1" font-size="7.4">1</tspan><tspan dy="-3.1">=</tspan><tspan dy="-2.5">1.32</tspan></text>
<text class="t" font-size="12.2" textLength="12.81" lengthAdjust="spacing" transform="translate(280,68.37) scale(1.16,1)">10</text>
<text class="t" font-size="12.2" textLength="12.03" lengthAdjust="spacing" transform="translate(281,44.03) scale(1.16,1)">20</text>
<text class="t" font-size="12.2" textLength="13.33" lengthAdjust="spacing" transform="translate(279.5,101.08) scale(1.16,1)">+4</text>
<text class="t" font-size="12.2" textLength="13.33" lengthAdjust="spacing" transform="translate(279.5,129.72) scale(1.16,1)">&#8722;4</text>
<text class="t" font-size="12.2" textLength="45.64" lengthAdjust="spacing" transform="translate(447.5,30.6) scale(1.16,1)">3&#8722;4&#8194;keV</text>
<text class="t" font-size="12.2" textLength="41.19" lengthAdjust="spacing" transform="translate(387,62.3) scale(1.16,1)">c<tspan dy="3.1" font-size="7.4">2</tspan><tspan dy="-3.1">=</tspan><tspan dy="2.1">1.01</tspan></text>
<text class="t" font-size="12.2" textLength="41.29" lengthAdjust="spacing" transform="translate(386,79.4) scale(1.16,1)">Q<tspan dy="3.1" font-size="7.4">2</tspan><tspan dy="-3.1">=</tspan><tspan dy="-2.5">1.10</tspan></text>
<text class="t" font-size="12.2" textLength="4.81" lengthAdjust="spacing" transform="translate(36,182.2) scale(1.16,1)">8</text>
<text class="t" font-size="12.2" textLength="12.81" lengthAdjust="spacing" transform="translate(28.5,152.2) scale(1.16,1)">16</text>
<text class="t" font-size="12.2" textLength="13.33" lengthAdjust="spacing" transform="translate(28,219) scale(1.16,1)">+4</text>
<text class="t" font-size="12.2" textLength="13.33" lengthAdjust="spacing" transform="translate(28,247.3) scale(1.16,1)">&#8722;4</text>
<text class="t" font-size="12.2" textLength="27.5" lengthAdjust="spacing" transform="translate(14.5,186.5) rotate(-90) scale(1.16,1)"><tspan font-style="italic">&#952;</tspan><tspan dy="-3.6" font-size="7.4">2</tspan><tspan dy="3.6">I/F</tspan></text>
<text class="t" font-size="12.2" textLength="25.04" lengthAdjust="spacing" transform="translate(11.7,239.5) rotate(-90) scale(0.9,1)">DEV</text>
<text class="t" font-size="12.2" textLength="45.64" lengthAdjust="spacing" transform="translate(196,149.1) scale(1.16,1)">4&#8722;5&#8194;keV</text>
<text class="t" font-size="12.2" textLength="39.64" lengthAdjust="spacing" transform="translate(135.5,180.8) scale(1.16,1)">c<tspan dy="3.1" font-size="7.4">3</tspan><tspan dy="-3.1">=</tspan><tspan dy="2.1">1.04</tspan></text>
<text class="t" font-size="12.2" textLength="41.29" lengthAdjust="spacing" transform="translate(134.5,198.4) scale(1.16,1)">Q<tspan dy="3.1" font-size="7.4">3</tspan><tspan dy="-3.1">=</tspan><tspan dy="-2.5">1.61</tspan></text>
<text class="t" font-size="12.2" textLength="9.47" lengthAdjust="spacing" transform="translate(287.5,182.66) scale(1.16,1)">5</text>
<text class="t" font-size="12.2" textLength="12.81" lengthAdjust="spacing" transform="translate(280,154.12) scale(1.16,1)">10</text>
<text class="t" font-size="12.2" textLength="13.33" lengthAdjust="spacing" transform="translate(279.5,219) scale(1.16,1)">+4</text>
<text class="t" font-size="12.2" textLength="13.33" lengthAdjust="spacing" transform="translate(279.5,247.3) scale(1.16,1)">&#8722;4</text>
<text class="t" font-size="12.2" textLength="45.64" lengthAdjust="spacing" transform="translate(447.5,149.1) scale(1.16,1)">5&#8722;6&#8194;keV</text>
<text class="t" font-size="12.2" textLength="40.41" lengthAdjust="spacing" transform="translate(354.5,181.3) scale(1.16,1)">c<tspan dy="3.1" font-size="7.4">4</tspan><tspan dy="-3.1">=</tspan><tspan dy="2.1">1.07</tspan></text>
<text class="t" font-size="12.2" textLength="41.29" lengthAdjust="spacing" transform="translate(353.5,198.4) scale(1.16,1)">Q<tspan dy="3.1" font-size="7.4">4</tspan><tspan dy="-3.1">=</tspan><tspan dy="-2.5">1.17</tspan></text>
<text class="t" font-size="12.2" textLength="12.86" lengthAdjust="spacing" transform="translate(54,261.9) scale(1.16,1)">30</text>
<text class="t" font-size="12.2" textLength="18.84" lengthAdjust="spacing" transform="translate(145.56,261.9) scale(1.16,1)">100</text>
<text class="t" font-size="12.2" textLength="18.07" lengthAdjust="spacing" transform="translate(232.5,261.9) scale(1.16,1)">300</text>
<text class="t" font-size="12.2" textLength="55.52" lengthAdjust="spacing" transform="translate(106,276.2) scale(1.16,1)"><tspan font-style="italic">&#952;</tspan> (arcsec)</text>
<text class="t" font-size="12.2" textLength="12.09" lengthAdjust="spacing" transform="translate(306.5,261.9) scale(1.16,1)">30</text>
<text class="t" font-size="12.2" textLength="18.84" lengthAdjust="spacing" transform="translate(397.06,261.9) scale(1.16,1)">100</text>
<text class="t" font-size="12.2" textLength="18.84" lengthAdjust="spacing" transform="translate(484,261.9) scale(1.16,1)">300</text>
<text class="t" font-size="12.2" textLength="54.74" lengthAdjust="spacing" transform="translate(358.5,276.2) scale(1.16,1)"><tspan font-style="italic">&#952;</tspan> (arcsec)</text>
<text class="t" font-size="12.2" textLength="35.67" lengthAdjust="spacing" transform="translate(261,280.2) scale(1.16,1)">Q=1.31</text>
<text class="t" font-size="12.2" textLength="35.03" lengthAdjust="spacing" transform="translate(77.9,320.8) scale(0.88,1)">WD01</text>
<text class="t" font-size="12.2" textLength="-12.9" lengthAdjust="spacing" transform="translate(34.5,321.1) scale(1.16,1)">1</text>
<text class="t" font-size="12.2" textLength="15.02" lengthAdjust="spacing" transform="translate(22.5,355.1) scale(1.16,1)">0.1</text>
<text class="t" font-size="12.2" textLength="21.84" lengthAdjust="spacing" transform="translate(15.5,387.4) scale(1.16,1)">0.01</text>
<text class="t" font-size="12.2" textLength="21.5" lengthAdjust="spacing" transform="translate(81,399.3) scale(1.16,1)">0.01</text>
<text class="t" font-size="12.2" textLength="17.09" lengthAdjust="spacing" transform="translate(130.5,399.3) scale(1.16,1)">0.1</text>
<text class="t" font-size="12.2" textLength="4.64" lengthAdjust="spacing" transform="translate(184,399.3) scale(1.16,1)">1</text>
<text class="t" font-size="12.2" textLength="28.88" lengthAdjust="spacing" transform="translate(101,408.3) scale(1.16,1)">a <tspan font-style="italic">&#956;</tspan>m</text>
<text class="t" font-size="12.2" textLength="49.98" lengthAdjust="spacing" transform="translate(10.7,370.5) rotate(-90) scale(1.16,1)">p(a)/p<tspan dy="3.0" font-size="7.4">max</tspan></text>
<text class="t" font-size="12.2" textLength="46.12" lengthAdjust="spacing" transform="translate(240.5,319.6) scale(1.16,1)"><tspan font-style="italic">&#964;</tspan><tspan dy="3.2" font-size="7.4">sca</tspan><tspan dy="-3.2">=</tspan><tspan dy="0.6">1.44</tspan></text>
<text class="t" font-size="12.2" textLength="26.47" lengthAdjust="spacing" transform="translate(209,335.6) scale(1.16,1)">1</text>
<text class="t" font-size="12.2" textLength="-16.62" lengthAdjust="spacing" transform="translate(210,389.9) scale(1.16,1)">0</text>
<text class="t" font-size="12.2" textLength="22.34" lengthAdjust="spacing" transform="translate(217,399.1) scale(1.16,1)">0</text>
<text class="t" font-size="12.2" textLength="15.05" lengthAdjust="spacing" transform="translate(273,399.1) scale(1.16,1)">0.5</text>
<text class="t" font-size="12.2" textLength="2.69" lengthAdjust="spacing" transform="translate(340.5,399.1) scale(1.16,1)">1</text>
<text class="t" font-size="12.2" textLength="10.6" lengthAdjust="spacing" transform="translate(279.5,414.8) scale(1.16,1)">z</text>
<text class="t" font-size="12.2" textLength="20.19" lengthAdjust="spacing" transform="translate(204.9,342.5) rotate(-90) scale(1.16,1)"><tspan font-style="italic">&#964;</tspan>(z)</text>
<text class="t" font-size="12.2" textLength="25.38" lengthAdjust="spacing" transform="translate(420.5,319) scale(1.16,1)">total</text>
<text class="t" font-size="12.2" textLength="22.34" lengthAdjust="spacing" transform="translate(373,303.9) scale(1.16,1)">0</text>
<text class="t" font-size="12.2" textLength="14.53" lengthAdjust="spacing" transform="translate(365,325.12) scale(1.16,1)">&#8722;1</text>
<text class="t" font-size="12.2" textLength="13.76" lengthAdjust="spacing" transform="translate(365,346.25) scale(1.16,1)">&#8722;2</text>
<text class="t" font-size="12.2" textLength="13.76" lengthAdjust="spacing" transform="translate(365,366.37) scale(1.16,1)">&#8722;3</text>
<text class="t" font-size="12.2" textLength="13.76" lengthAdjust="spacing" transform="translate(365,387.5) scale(1.16,1)">&#8722;4</text>
<text class="t" font-size="12.2" textLength="19.41" lengthAdjust="spacing" transform="translate(372,399.4) scale(1.16,1)">&#8722;10</text>
<text class="t" font-size="12.2" textLength="12.09" lengthAdjust="spacing" transform="translate(410.5,399.4) scale(1.16,1)">&#8722;5</text>
<text class="t" font-size="12.2" textLength="4.81" lengthAdjust="spacing" transform="translate(446,399.4) scale(1.16,1)">0</text>
<text class="t" font-size="12.2" textLength="-10.02" lengthAdjust="spacing" transform="translate(480.5,399.4) scale(1.16,1)">5</text>
<text class="t" font-size="12.2" textLength="11.6" lengthAdjust="spacing" transform="translate(510.9,399.4) scale(1.16,1)">10</text>
<text class="t" font-size="12.2" textLength="46.17" lengthAdjust="spacing" transform="translate(423.5,416.7) scale(1.16,1)">T (10<tspan dy="-4.5" font-size="7.4">6</tspan><tspan dy="4.5">&#160; s)</tspan></text>
<text class="t" font-size="12.2" textLength="38.72" lengthAdjust="spacing" transform="translate(361,362) rotate(-90) scale(1.16,1)">log(H)</text>
<text class="t" font-size="12.2" textLength="-3.16" lengthAdjust="spacing" transform="translate(519,303.7) scale(1.16,1)">1</text>
<text class="t" font-size="12.2" textLength="-3" lengthAdjust="spacing" transform="translate(519.5,333.2) scale(1.16,1)">2</text>
<text class="t" font-size="12.2" textLength="-3" lengthAdjust="spacing" transform="translate(519.5,365.2) scale(1.16,1)">3</text>
</svg>
</body></html>
